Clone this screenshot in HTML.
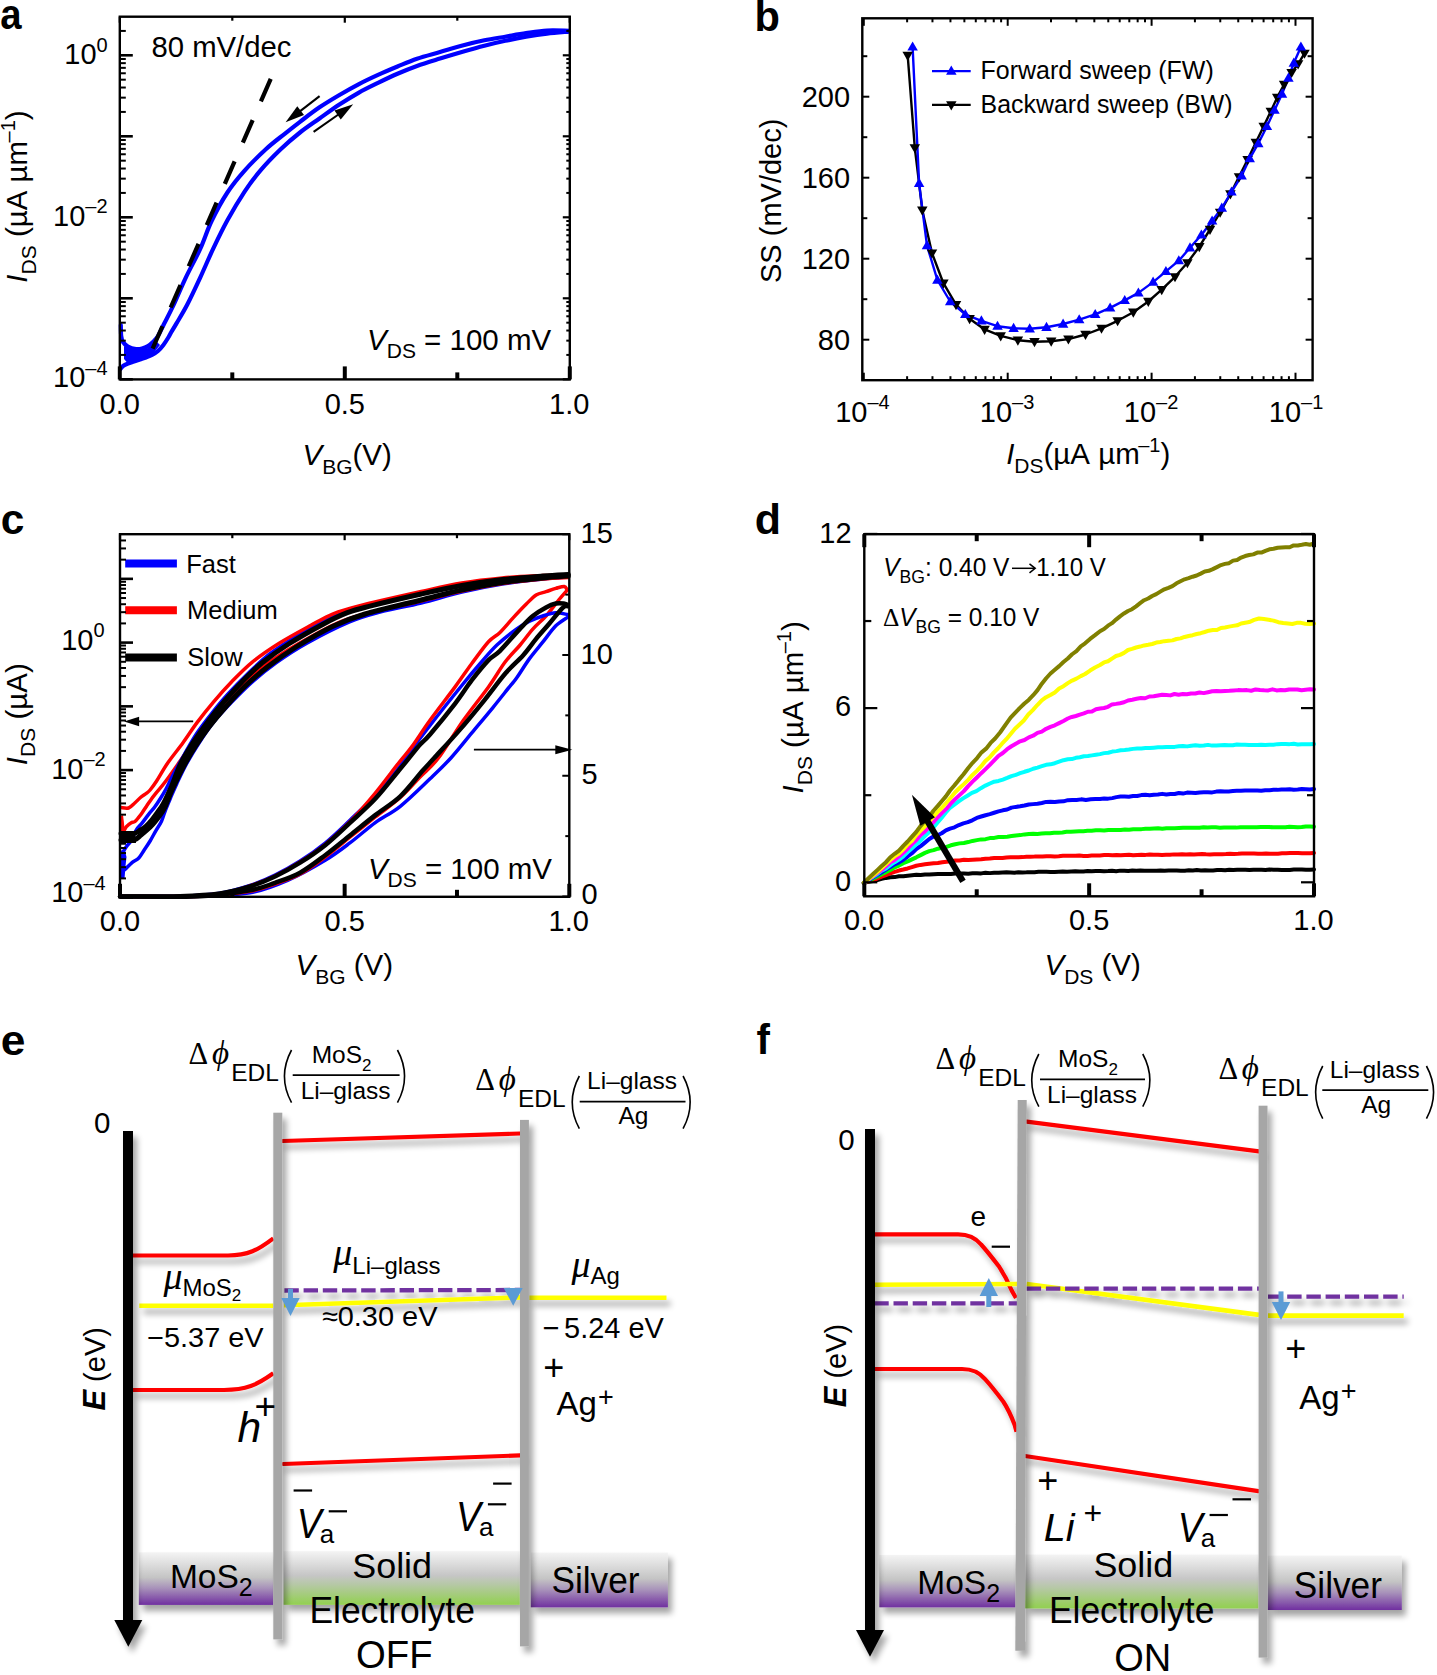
<!DOCTYPE html>
<html><head><meta charset="utf-8"><title>Figure</title>
<style>html,body{margin:0;padding:0;background:#fff;}svg{display:block;}text{font-kerning:none;white-space:pre;}</style>
</head><body>
<svg xml:space="preserve" width="1437" height="1675" viewBox="0 0 1437 1675">
<rect width="1437" height="1675" fill="#fff"/>
<defs>
<filter id="sh" filterUnits="userSpaceOnUse" x="0" y="980" width="1437" height="695">
 <feGaussianBlur in="SourceAlpha" stdDeviation="3.2"/>
 <feOffset dx="3.5" dy="5.5" result="b"/>
 <feComponentTransfer in="b"><feFuncA type="linear" slope="0.36"/></feComponentTransfer>
 <feMerge><feMergeNode/><feMergeNode in="SourceGraphic"/></feMerge>
</filter>
<linearGradient id="gp" x1="0" y1="0" x2="0" y2="1">
 <stop offset="0" stop-color="#f4f4f4"/><stop offset="0.48" stop-color="#c4c4c4"/>
 <stop offset="0.68" stop-color="#a892ba"/><stop offset="1" stop-color="#7030a0"/>
</linearGradient>
<linearGradient id="gg" x1="0" y1="0" x2="0" y2="1">
 <stop offset="0" stop-color="#f4f4f4"/><stop offset="0.45" stop-color="#c6c6c6"/>
 <stop offset="0.62" stop-color="#b6c8a6"/><stop offset="1" stop-color="#92d050"/>
</linearGradient>
</defs><path d="M120.80,325.00 C120.87,326.83 120.83,333.17 121.20,336.00 C121.57,338.83 121.87,340.25 123.00,342.00 C124.13,343.75 125.83,345.33 128.00,346.50 C130.17,347.67 133.67,348.67 136.00,349.00 C138.33,349.33 140.00,349.00 142.00,348.50 C144.00,348.00 146.17,347.08 148.00,346.00 C149.83,344.92 151.33,343.67 153.00,342.00 C154.67,340.33 156.17,339.00 158.00,336.00 C159.83,333.00 161.50,328.97 164.00,324.00 C166.50,319.03 169.37,313.93 173.00,306.20 C176.63,298.47 181.27,287.15 185.80,277.60 C190.33,268.05 195.90,258.33 200.20,248.90 C204.50,239.47 207.07,230.40 211.60,221.00 C216.13,211.60 221.90,200.90 227.40,192.50 C232.90,184.10 238.15,177.85 244.60,170.60 C251.05,163.35 259.42,155.13 266.10,149.00 C272.78,142.87 279.05,138.33 284.70,133.80 C290.35,129.27 294.20,126.22 300.00,121.80 C305.80,117.38 313.00,111.73 319.50,107.30 C326.00,102.87 332.50,99.03 339.00,95.20 C345.50,91.37 352.00,87.68 358.50,84.30 C365.00,80.92 371.50,77.87 378.00,74.90 C384.50,71.93 391.00,69.20 397.50,66.50 C404.00,63.80 409.92,61.12 417.00,58.70 C424.08,56.28 432.25,54.25 440.00,52.00 C447.75,49.75 456.10,47.15 463.50,45.20 C470.90,43.25 477.43,41.72 484.40,40.30 C491.37,38.88 498.35,37.88 505.30,36.70 C512.25,35.52 519.15,34.22 526.10,33.20 C533.05,32.18 539.85,31.00 547.00,30.60 C554.15,30.20 565.33,30.77 569.00,30.80" fill="none" stroke="#0000ff" stroke-width="4.2" stroke-linejoin="round" stroke-linecap="round"/><path d="M120.50,369.00 C120.92,368.50 121.75,366.92 123.00,366.00 C124.25,365.08 126.17,364.25 128.00,363.50 C129.83,362.75 132.00,362.17 134.00,361.50 C136.00,360.83 138.00,360.17 140.00,359.50 C142.00,358.83 144.00,358.25 146.00,357.50 C148.00,356.75 150.00,356.08 152.00,355.00 C154.00,353.92 156.10,352.67 158.00,351.00 C159.90,349.33 161.73,347.17 163.40,345.00 C165.07,342.83 166.70,340.12 168.00,338.00 C169.30,335.88 169.83,334.65 171.20,332.30 C172.57,329.95 173.52,328.53 176.20,323.90 C178.88,319.27 183.30,312.22 187.30,304.50 C191.30,296.78 195.90,286.87 200.20,277.60 C204.50,268.33 208.57,258.45 213.10,248.90 C217.63,239.35 222.15,229.85 227.40,220.30 C232.65,210.75 239.12,199.88 244.60,191.60 C250.08,183.32 254.33,177.62 260.30,170.60 C266.27,163.58 273.78,155.85 280.40,149.50 C287.02,143.15 293.48,137.67 300.00,132.50 C306.52,127.33 313.00,123.12 319.50,118.50 C326.00,113.88 332.50,109.08 339.00,104.80 C345.50,100.52 352.00,96.45 358.50,92.80 C365.00,89.15 371.50,86.07 378.00,82.90 C384.50,79.73 391.00,76.62 397.50,73.80 C404.00,70.98 409.92,68.53 417.00,66.00 C424.08,63.47 432.25,61.02 440.00,58.60 C447.75,56.18 456.10,53.65 463.50,51.50 C470.90,49.35 477.43,47.48 484.40,45.70 C491.37,43.92 498.35,42.28 505.30,40.80 C512.25,39.32 519.15,37.98 526.10,36.80 C533.05,35.62 539.85,34.57 547.00,33.70 C554.15,32.83 565.33,31.95 569.00,31.60" fill="none" stroke="#0000ff" stroke-width="4.2" stroke-linejoin="round" stroke-linecap="round"/><polygon points="124,346 136,350 148,348 156,341 160,345 152,355 140,359.5 128,363.5 124,359" fill="#0000ff"/><line x1="152.60" y1="348.70" x2="271.30" y2="77.60" stroke="#000" stroke-width="4.2" stroke-dasharray="24.5 20.5"/><line x1="319.60" y1="96.10" x2="299.86" y2="111.31" stroke="#000" stroke-width="2.1"/><polygon points="285.60,122.30 297.29,106.35 304.01,115.06" fill="#000"/><line x1="313.60" y1="131.80" x2="338.43" y2="114.49" stroke="#000" stroke-width="2.1"/><polygon points="353.20,104.20 340.76,119.58 334.47,110.55" fill="#000"/><rect x="119.8" y="16.7" width="449.99999999999994" height="362.7" fill="none" stroke="#000" stroke-width="2.4"/><line x1="119.80" y1="379.30" x2="132.80" y2="379.30" stroke="#000" stroke-width="2.6"/><line x1="569.80" y1="379.30" x2="562.80" y2="379.30" stroke="#000" stroke-width="2.2"/><line x1="119.80" y1="354.92" x2="125.80" y2="354.92" stroke="#000" stroke-width="2"/><line x1="569.80" y1="354.92" x2="566.30" y2="354.92" stroke="#000" stroke-width="2"/><line x1="119.80" y1="340.65" x2="125.80" y2="340.65" stroke="#000" stroke-width="2"/><line x1="569.80" y1="340.65" x2="566.30" y2="340.65" stroke="#000" stroke-width="2"/><line x1="119.80" y1="330.53" x2="125.80" y2="330.53" stroke="#000" stroke-width="2"/><line x1="569.80" y1="330.53" x2="566.30" y2="330.53" stroke="#000" stroke-width="2"/><line x1="119.80" y1="322.68" x2="125.80" y2="322.68" stroke="#000" stroke-width="2"/><line x1="569.80" y1="322.68" x2="566.30" y2="322.68" stroke="#000" stroke-width="2"/><line x1="119.80" y1="316.27" x2="125.80" y2="316.27" stroke="#000" stroke-width="2"/><line x1="569.80" y1="316.27" x2="566.30" y2="316.27" stroke="#000" stroke-width="2"/><line x1="119.80" y1="310.85" x2="125.80" y2="310.85" stroke="#000" stroke-width="2"/><line x1="569.80" y1="310.85" x2="566.30" y2="310.85" stroke="#000" stroke-width="2"/><line x1="119.80" y1="306.15" x2="125.80" y2="306.15" stroke="#000" stroke-width="2"/><line x1="569.80" y1="306.15" x2="566.30" y2="306.15" stroke="#000" stroke-width="2"/><line x1="119.80" y1="302.01" x2="125.80" y2="302.01" stroke="#000" stroke-width="2"/><line x1="569.80" y1="302.01" x2="566.30" y2="302.01" stroke="#000" stroke-width="2"/><line x1="119.80" y1="298.30" x2="132.80" y2="298.30" stroke="#000" stroke-width="2.6"/><line x1="569.80" y1="298.30" x2="562.80" y2="298.30" stroke="#000" stroke-width="2.2"/><line x1="119.80" y1="273.92" x2="125.80" y2="273.92" stroke="#000" stroke-width="2"/><line x1="569.80" y1="273.92" x2="566.30" y2="273.92" stroke="#000" stroke-width="2"/><line x1="119.80" y1="259.65" x2="125.80" y2="259.65" stroke="#000" stroke-width="2"/><line x1="569.80" y1="259.65" x2="566.30" y2="259.65" stroke="#000" stroke-width="2"/><line x1="119.80" y1="249.53" x2="125.80" y2="249.53" stroke="#000" stroke-width="2"/><line x1="569.80" y1="249.53" x2="566.30" y2="249.53" stroke="#000" stroke-width="2"/><line x1="119.80" y1="241.68" x2="125.80" y2="241.68" stroke="#000" stroke-width="2"/><line x1="569.80" y1="241.68" x2="566.30" y2="241.68" stroke="#000" stroke-width="2"/><line x1="119.80" y1="235.27" x2="125.80" y2="235.27" stroke="#000" stroke-width="2"/><line x1="569.80" y1="235.27" x2="566.30" y2="235.27" stroke="#000" stroke-width="2"/><line x1="119.80" y1="229.85" x2="125.80" y2="229.85" stroke="#000" stroke-width="2"/><line x1="569.80" y1="229.85" x2="566.30" y2="229.85" stroke="#000" stroke-width="2"/><line x1="119.80" y1="225.15" x2="125.80" y2="225.15" stroke="#000" stroke-width="2"/><line x1="569.80" y1="225.15" x2="566.30" y2="225.15" stroke="#000" stroke-width="2"/><line x1="119.80" y1="221.01" x2="125.80" y2="221.01" stroke="#000" stroke-width="2"/><line x1="569.80" y1="221.01" x2="566.30" y2="221.01" stroke="#000" stroke-width="2"/><line x1="119.80" y1="217.30" x2="132.80" y2="217.30" stroke="#000" stroke-width="2.6"/><line x1="569.80" y1="217.30" x2="562.80" y2="217.30" stroke="#000" stroke-width="2.2"/><line x1="119.80" y1="192.92" x2="125.80" y2="192.92" stroke="#000" stroke-width="2"/><line x1="569.80" y1="192.92" x2="566.30" y2="192.92" stroke="#000" stroke-width="2"/><line x1="119.80" y1="178.65" x2="125.80" y2="178.65" stroke="#000" stroke-width="2"/><line x1="569.80" y1="178.65" x2="566.30" y2="178.65" stroke="#000" stroke-width="2"/><line x1="119.80" y1="168.53" x2="125.80" y2="168.53" stroke="#000" stroke-width="2"/><line x1="569.80" y1="168.53" x2="566.30" y2="168.53" stroke="#000" stroke-width="2"/><line x1="119.80" y1="160.68" x2="125.80" y2="160.68" stroke="#000" stroke-width="2"/><line x1="569.80" y1="160.68" x2="566.30" y2="160.68" stroke="#000" stroke-width="2"/><line x1="119.80" y1="154.27" x2="125.80" y2="154.27" stroke="#000" stroke-width="2"/><line x1="569.80" y1="154.27" x2="566.30" y2="154.27" stroke="#000" stroke-width="2"/><line x1="119.80" y1="148.85" x2="125.80" y2="148.85" stroke="#000" stroke-width="2"/><line x1="569.80" y1="148.85" x2="566.30" y2="148.85" stroke="#000" stroke-width="2"/><line x1="119.80" y1="144.15" x2="125.80" y2="144.15" stroke="#000" stroke-width="2"/><line x1="569.80" y1="144.15" x2="566.30" y2="144.15" stroke="#000" stroke-width="2"/><line x1="119.80" y1="140.01" x2="125.80" y2="140.01" stroke="#000" stroke-width="2"/><line x1="569.80" y1="140.01" x2="566.30" y2="140.01" stroke="#000" stroke-width="2"/><line x1="119.80" y1="136.30" x2="132.80" y2="136.30" stroke="#000" stroke-width="2.6"/><line x1="569.80" y1="136.30" x2="562.80" y2="136.30" stroke="#000" stroke-width="2.2"/><line x1="119.80" y1="111.92" x2="125.80" y2="111.92" stroke="#000" stroke-width="2"/><line x1="569.80" y1="111.92" x2="566.30" y2="111.92" stroke="#000" stroke-width="2"/><line x1="119.80" y1="97.65" x2="125.80" y2="97.65" stroke="#000" stroke-width="2"/><line x1="569.80" y1="97.65" x2="566.30" y2="97.65" stroke="#000" stroke-width="2"/><line x1="119.80" y1="87.53" x2="125.80" y2="87.53" stroke="#000" stroke-width="2"/><line x1="569.80" y1="87.53" x2="566.30" y2="87.53" stroke="#000" stroke-width="2"/><line x1="119.80" y1="79.68" x2="125.80" y2="79.68" stroke="#000" stroke-width="2"/><line x1="569.80" y1="79.68" x2="566.30" y2="79.68" stroke="#000" stroke-width="2"/><line x1="119.80" y1="73.27" x2="125.80" y2="73.27" stroke="#000" stroke-width="2"/><line x1="569.80" y1="73.27" x2="566.30" y2="73.27" stroke="#000" stroke-width="2"/><line x1="119.80" y1="67.85" x2="125.80" y2="67.85" stroke="#000" stroke-width="2"/><line x1="569.80" y1="67.85" x2="566.30" y2="67.85" stroke="#000" stroke-width="2"/><line x1="119.80" y1="63.15" x2="125.80" y2="63.15" stroke="#000" stroke-width="2"/><line x1="569.80" y1="63.15" x2="566.30" y2="63.15" stroke="#000" stroke-width="2"/><line x1="119.80" y1="59.01" x2="125.80" y2="59.01" stroke="#000" stroke-width="2"/><line x1="569.80" y1="59.01" x2="566.30" y2="59.01" stroke="#000" stroke-width="2"/><line x1="119.80" y1="55.30" x2="132.80" y2="55.30" stroke="#000" stroke-width="2.6"/><line x1="569.80" y1="55.30" x2="562.80" y2="55.30" stroke="#000" stroke-width="2.2"/><line x1="119.80" y1="30.92" x2="125.80" y2="30.92" stroke="#000" stroke-width="2"/><line x1="569.80" y1="30.92" x2="566.30" y2="30.92" stroke="#000" stroke-width="2"/><line x1="119.80" y1="379.40" x2="119.80" y2="366.40" stroke="#000" stroke-width="4"/><line x1="119.80" y1="16.70" x2="119.80" y2="22.70" stroke="#000" stroke-width="2.2"/><line x1="344.80" y1="379.40" x2="344.80" y2="366.40" stroke="#000" stroke-width="4"/><line x1="344.80" y1="16.70" x2="344.80" y2="22.70" stroke="#000" stroke-width="2.2"/><line x1="569.80" y1="379.40" x2="569.80" y2="366.40" stroke="#000" stroke-width="4"/><line x1="569.80" y1="16.70" x2="569.80" y2="22.70" stroke="#000" stroke-width="2.2"/><line x1="232.30" y1="379.40" x2="232.30" y2="372.40" stroke="#000" stroke-width="4"/><line x1="232.30" y1="16.70" x2="232.30" y2="20.70" stroke="#000" stroke-width="2.2"/><line x1="457.30" y1="379.40" x2="457.30" y2="372.40" stroke="#000" stroke-width="4"/><line x1="457.30" y1="16.70" x2="457.30" y2="20.70" stroke="#000" stroke-width="2.2"/><g transform="translate(66.50,64.00)"><text x="-2.17" y="0.00" font-family='"Liberation Sans", sans-serif' font-size="29.00">10</text><text x="30.08" y="-12.30" font-family='"Liberation Sans", sans-serif' font-size="20.00">0</text></g><g transform="translate(55.20,226.40)"><text x="-2.17" y="0.00" font-family='"Liberation Sans", sans-serif' font-size="29.00">10</text><text x="30.08" y="-13.00" font-family='"Liberation Sans", sans-serif' font-size="20.00">–2</text></g><g transform="translate(55.20,387.40)"><text x="-2.17" y="0.00" font-family='"Liberation Sans", sans-serif' font-size="29.00">10</text><text x="30.08" y="-12.50" font-family='"Liberation Sans", sans-serif' font-size="20.00">–4</text></g><g transform="translate(119.80,413.50)"><text x="-20.23" y="0.00" font-family='"Liberation Sans", sans-serif' font-size="29.00">0.0</text></g><g transform="translate(344.80,413.50)"><text x="-20.16" y="0.00" font-family='"Liberation Sans", sans-serif' font-size="29.00">0.5</text></g><g transform="translate(569.80,413.50)"><text x="-20.73" y="0.00" font-family='"Liberation Sans", sans-serif' font-size="29.00">1.0</text></g><g transform="translate(305.00,465.00)"><text x="-2.51" y="0.00" font-family='"Liberation Sans", sans-serif' font-size="29.50" font-style="italic">V</text><text x="17.17" y="8.50" font-family='"Liberation Sans", sans-serif' font-size="21.00">BG</text><text x="47.51" y="0.00" font-family='"Liberation Sans", sans-serif' font-size="29.50">(V)</text></g><g transform="translate(27.00,281.50) rotate(-90)"><text x="-1.18" y="0.00" font-family='"Liberation Sans", sans-serif' font-size="29.50" font-style="italic">I</text><text x="7.02" y="8.50" font-family='"Liberation Sans", sans-serif' font-size="21.00">DS</text><text x="36.19" y="0.00" font-family='"Liberation Sans", sans-serif' font-size="29.50"> (µA µm</text><text x="139.02" y="-12.50" font-family='"Liberation Sans", sans-serif' font-size="20.00">–1</text><text x="161.27" y="0.00" font-family='"Liberation Sans", sans-serif' font-size="29.50">)</text></g><g transform="translate(152.80,57.10) scale(0.9932,1.0000)"><text x="-1.33" y="0.00" font-family='"Liberation Sans", sans-serif' font-size="29.50">80 mV/dec</text></g><g transform="translate(369.60,349.50)"><text x="-2.51" y="0.00" font-family='"Liberation Sans", sans-serif' font-size="29.50" font-style="italic">V</text><text x="17.17" y="8.10" font-family='"Liberation Sans", sans-serif' font-size="21.00">DS</text><text x="46.34" y="0.00" font-family='"Liberation Sans", sans-serif' font-size="29.50"> = 100 mV</text></g><g transform="translate(1.40,29.20) scale(0.8911,1.0000)"><text x="-1.29" y="0.00" font-family='"Liberation Sans", sans-serif' font-size="43.00" font-weight="bold">a</text></g><path d="M907.70,55.50 L914.80,147.80 L922.30,210.20 L932.00,253.10 L943.40,283.20 L956.00,304.70 L969.60,318.70 L984.60,329.40 L1000.70,335.90 L1017.90,340.20 L1034.50,341.70 L1051.20,341.20 L1068.40,339.10 L1085.50,334.50 L1101.50,328.30 L1117.60,320.80 L1133.30,312.20 L1148.30,301.50 L1161.70,289.70 L1175.00,276.80 L1187.40,262.80 L1199.30,246.70 L1210.00,229.50 L1220.10,212.30 L1230.40,194.00 L1239.00,176.90 L1247.60,159.70 L1255.80,142.50 L1263.70,126.40 L1270.80,111.30 L1277.20,97.40 L1284.10,84.50 L1291.60,72.60 L1298.10,64.00 L1304.50,53.30" fill="none" stroke="#000" stroke-width="2.4" stroke-linejoin="round" stroke-linecap="round"/><path d="M912.60,46.90 L919.10,183.30 L927.00,245.60 L937.40,280.00 L950.20,301.50 L965.30,314.40 L981.40,320.80 L997.50,326.20 L1013.60,328.30 L1029.70,328.80 L1046.50,327.30 L1063.10,324.00 L1079.20,319.70 L1095.20,314.40 L1110.10,307.90 L1124.70,300.40 L1138.40,292.90 L1153.10,282.10 L1165.90,271.40 L1178.80,260.70 L1190.00,247.80 L1201.40,234.90 L1212.10,220.90 L1221.80,208.00 L1231.50,191.90 L1241.60,175.80 L1249.70,158.60 L1258.30,143.50 L1266.90,126.40 L1274.50,110.20 L1282.00,94.10 L1288.40,78.00 L1293.80,63.00 L1300.90,46.90" fill="none" stroke="#0000ff" stroke-width="2.4" stroke-linejoin="round" stroke-linecap="round"/><polygon points="907.70,60.98 902.45,51.85 912.95,51.85" fill="#000"/><polygon points="914.80,153.28 909.55,144.15 920.05,144.15" fill="#000"/><polygon points="922.30,215.68 917.05,206.55 927.55,206.55" fill="#000"/><polygon points="932.00,258.58 926.75,249.45 937.25,249.45" fill="#000"/><polygon points="943.40,288.68 938.15,279.55 948.65,279.55" fill="#000"/><polygon points="956.00,310.18 950.75,301.05 961.25,301.05" fill="#000"/><polygon points="969.60,324.18 964.35,315.05 974.85,315.05" fill="#000"/><polygon points="984.60,334.88 979.35,325.75 989.85,325.75" fill="#000"/><polygon points="1000.70,341.38 995.45,332.25 1005.95,332.25" fill="#000"/><polygon points="1017.90,345.68 1012.65,336.55 1023.15,336.55" fill="#000"/><polygon points="1034.50,347.18 1029.25,338.05 1039.75,338.05" fill="#000"/><polygon points="1051.20,346.68 1045.95,337.55 1056.45,337.55" fill="#000"/><polygon points="1068.40,344.58 1063.15,335.45 1073.65,335.45" fill="#000"/><polygon points="1085.50,339.98 1080.25,330.85 1090.75,330.85" fill="#000"/><polygon points="1101.50,333.78 1096.25,324.65 1106.75,324.65" fill="#000"/><polygon points="1117.60,326.28 1112.35,317.15 1122.85,317.15" fill="#000"/><polygon points="1133.30,317.68 1128.05,308.55 1138.55,308.55" fill="#000"/><polygon points="1148.30,306.98 1143.05,297.85 1153.55,297.85" fill="#000"/><polygon points="1161.70,295.18 1156.45,286.05 1166.95,286.05" fill="#000"/><polygon points="1175.00,282.28 1169.75,273.15 1180.25,273.15" fill="#000"/><polygon points="1187.40,268.28 1182.15,259.15 1192.65,259.15" fill="#000"/><polygon points="1199.30,252.18 1194.05,243.05 1204.55,243.05" fill="#000"/><polygon points="1210.00,234.98 1204.75,225.85 1215.25,225.85" fill="#000"/><polygon points="1220.10,217.78 1214.85,208.65 1225.35,208.65" fill="#000"/><polygon points="1230.40,199.48 1225.15,190.35 1235.65,190.35" fill="#000"/><polygon points="1239.00,182.38 1233.75,173.25 1244.25,173.25" fill="#000"/><polygon points="1247.60,165.18 1242.35,156.05 1252.85,156.05" fill="#000"/><polygon points="1255.80,147.98 1250.55,138.85 1261.05,138.85" fill="#000"/><polygon points="1263.70,131.88 1258.45,122.75 1268.95,122.75" fill="#000"/><polygon points="1270.80,116.78 1265.55,107.65 1276.05,107.65" fill="#000"/><polygon points="1277.20,102.88 1271.95,93.75 1282.45,93.75" fill="#000"/><polygon points="1284.10,89.98 1278.85,80.85 1289.35,80.85" fill="#000"/><polygon points="1291.60,78.08 1286.35,68.95 1296.85,68.95" fill="#000"/><polygon points="1298.10,69.48 1292.85,60.35 1303.35,60.35" fill="#000"/><polygon points="1304.50,58.78 1299.25,49.65 1309.75,49.65" fill="#000"/><polygon points="912.60,41.42 907.35,50.55 917.85,50.55" fill="#0000ff"/><polygon points="919.10,177.82 913.85,186.95 924.35,186.95" fill="#0000ff"/><polygon points="927.00,240.12 921.75,249.25 932.25,249.25" fill="#0000ff"/><polygon points="937.40,274.52 932.15,283.65 942.65,283.65" fill="#0000ff"/><polygon points="950.20,296.02 944.95,305.15 955.45,305.15" fill="#0000ff"/><polygon points="965.30,308.92 960.05,318.05 970.55,318.05" fill="#0000ff"/><polygon points="981.40,315.32 976.15,324.45 986.65,324.45" fill="#0000ff"/><polygon points="997.50,320.72 992.25,329.85 1002.75,329.85" fill="#0000ff"/><polygon points="1013.60,322.82 1008.35,331.95 1018.85,331.95" fill="#0000ff"/><polygon points="1029.70,323.32 1024.45,332.45 1034.95,332.45" fill="#0000ff"/><polygon points="1046.50,321.82 1041.25,330.95 1051.75,330.95" fill="#0000ff"/><polygon points="1063.10,318.52 1057.85,327.65 1068.35,327.65" fill="#0000ff"/><polygon points="1079.20,314.22 1073.95,323.35 1084.45,323.35" fill="#0000ff"/><polygon points="1095.20,308.92 1089.95,318.05 1100.45,318.05" fill="#0000ff"/><polygon points="1110.10,302.42 1104.85,311.55 1115.35,311.55" fill="#0000ff"/><polygon points="1124.70,294.92 1119.45,304.05 1129.95,304.05" fill="#0000ff"/><polygon points="1138.40,287.42 1133.15,296.55 1143.65,296.55" fill="#0000ff"/><polygon points="1153.10,276.62 1147.85,285.75 1158.35,285.75" fill="#0000ff"/><polygon points="1165.90,265.92 1160.65,275.05 1171.15,275.05" fill="#0000ff"/><polygon points="1178.80,255.22 1173.55,264.35 1184.05,264.35" fill="#0000ff"/><polygon points="1190.00,242.32 1184.75,251.45 1195.25,251.45" fill="#0000ff"/><polygon points="1201.40,229.42 1196.15,238.55 1206.65,238.55" fill="#0000ff"/><polygon points="1212.10,215.42 1206.85,224.55 1217.35,224.55" fill="#0000ff"/><polygon points="1221.80,202.52 1216.55,211.65 1227.05,211.65" fill="#0000ff"/><polygon points="1231.50,186.42 1226.25,195.55 1236.75,195.55" fill="#0000ff"/><polygon points="1241.60,170.32 1236.35,179.45 1246.85,179.45" fill="#0000ff"/><polygon points="1249.70,153.12 1244.45,162.25 1254.95,162.25" fill="#0000ff"/><polygon points="1258.30,138.02 1253.05,147.15 1263.55,147.15" fill="#0000ff"/><polygon points="1266.90,120.92 1261.65,130.05 1272.15,130.05" fill="#0000ff"/><polygon points="1274.50,104.72 1269.25,113.85 1279.75,113.85" fill="#0000ff"/><polygon points="1282.00,88.62 1276.75,97.75 1287.25,97.75" fill="#0000ff"/><polygon points="1288.40,72.52 1283.15,81.65 1293.65,81.65" fill="#0000ff"/><polygon points="1293.80,57.52 1288.55,66.65 1299.05,66.65" fill="#0000ff"/><polygon points="1300.90,41.42 1295.65,50.55 1306.15,50.55" fill="#0000ff"/><line x1="932.00" y1="71.10" x2="970.70" y2="71.10" stroke="#0000ff" stroke-width="2.4"/><polygon points="951.30,65.62 946.05,74.75 956.55,74.75" fill="#0000ff"/><line x1="932.00" y1="104.90" x2="970.70" y2="104.90" stroke="#000" stroke-width="2.4"/><polygon points="951.30,110.38 946.05,101.25 956.55,101.25" fill="#000"/><g transform="translate(982.60,79.30) scale(0.9798,1.0000)"><text x="-2.04" y="0.00" font-family='"Liberation Sans", sans-serif' font-size="25.50">Forward sweep (FW)</text></g><g transform="translate(982.60,113.30) scale(0.9774,1.0000)"><text x="-2.04" y="0.00" font-family='"Liberation Sans", sans-serif' font-size="25.50">Backward sweep (BW)</text></g><rect x="862.3" y="18.3" width="450.29999999999995" height="361.9" fill="none" stroke="#000" stroke-width="2.4"/><line x1="862.30" y1="339.70" x2="869.30" y2="339.70" stroke="#000" stroke-width="2"/><line x1="1312.60" y1="339.70" x2="1305.60" y2="339.70" stroke="#000" stroke-width="2"/><line x1="862.30" y1="299.20" x2="867.30" y2="299.20" stroke="#000" stroke-width="2"/><line x1="1312.60" y1="299.20" x2="1307.60" y2="299.20" stroke="#000" stroke-width="2"/><line x1="862.30" y1="258.70" x2="869.30" y2="258.70" stroke="#000" stroke-width="2"/><line x1="1312.60" y1="258.70" x2="1305.60" y2="258.70" stroke="#000" stroke-width="2"/><line x1="862.30" y1="218.20" x2="867.30" y2="218.20" stroke="#000" stroke-width="2"/><line x1="1312.60" y1="218.20" x2="1307.60" y2="218.20" stroke="#000" stroke-width="2"/><line x1="862.30" y1="177.70" x2="869.30" y2="177.70" stroke="#000" stroke-width="2"/><line x1="1312.60" y1="177.70" x2="1305.60" y2="177.70" stroke="#000" stroke-width="2"/><line x1="862.30" y1="137.20" x2="867.30" y2="137.20" stroke="#000" stroke-width="2"/><line x1="1312.60" y1="137.20" x2="1307.60" y2="137.20" stroke="#000" stroke-width="2"/><line x1="862.30" y1="96.70" x2="869.30" y2="96.70" stroke="#000" stroke-width="2"/><line x1="1312.60" y1="96.70" x2="1305.60" y2="96.70" stroke="#000" stroke-width="2"/><line x1="862.30" y1="56.20" x2="867.30" y2="56.20" stroke="#000" stroke-width="2"/><line x1="1312.60" y1="56.20" x2="1307.60" y2="56.20" stroke="#000" stroke-width="2"/><line x1="863.80" y1="380.20" x2="863.80" y2="372.70" stroke="#000" stroke-width="2"/><line x1="863.80" y1="18.30" x2="863.80" y2="25.80" stroke="#000" stroke-width="2"/><line x1="907.12" y1="380.20" x2="907.12" y2="376.20" stroke="#000" stroke-width="2"/><line x1="907.12" y1="18.30" x2="907.12" y2="22.30" stroke="#000" stroke-width="2"/><line x1="932.46" y1="380.20" x2="932.46" y2="376.20" stroke="#000" stroke-width="2"/><line x1="932.46" y1="18.30" x2="932.46" y2="22.30" stroke="#000" stroke-width="2"/><line x1="950.44" y1="380.20" x2="950.44" y2="376.20" stroke="#000" stroke-width="2"/><line x1="950.44" y1="18.30" x2="950.44" y2="22.30" stroke="#000" stroke-width="2"/><line x1="964.38" y1="380.20" x2="964.38" y2="376.20" stroke="#000" stroke-width="2"/><line x1="964.38" y1="18.30" x2="964.38" y2="22.30" stroke="#000" stroke-width="2"/><line x1="975.78" y1="380.20" x2="975.78" y2="376.20" stroke="#000" stroke-width="2"/><line x1="975.78" y1="18.30" x2="975.78" y2="22.30" stroke="#000" stroke-width="2"/><line x1="985.41" y1="380.20" x2="985.41" y2="376.20" stroke="#000" stroke-width="2"/><line x1="985.41" y1="18.30" x2="985.41" y2="22.30" stroke="#000" stroke-width="2"/><line x1="993.75" y1="380.20" x2="993.75" y2="376.20" stroke="#000" stroke-width="2"/><line x1="993.75" y1="18.30" x2="993.75" y2="22.30" stroke="#000" stroke-width="2"/><line x1="1001.12" y1="380.20" x2="1001.12" y2="376.20" stroke="#000" stroke-width="2"/><line x1="1001.12" y1="18.30" x2="1001.12" y2="22.30" stroke="#000" stroke-width="2"/><line x1="1007.70" y1="380.20" x2="1007.70" y2="372.70" stroke="#000" stroke-width="2"/><line x1="1007.70" y1="18.30" x2="1007.70" y2="25.80" stroke="#000" stroke-width="2"/><line x1="1051.02" y1="380.20" x2="1051.02" y2="376.20" stroke="#000" stroke-width="2"/><line x1="1051.02" y1="18.30" x2="1051.02" y2="22.30" stroke="#000" stroke-width="2"/><line x1="1076.36" y1="380.20" x2="1076.36" y2="376.20" stroke="#000" stroke-width="2"/><line x1="1076.36" y1="18.30" x2="1076.36" y2="22.30" stroke="#000" stroke-width="2"/><line x1="1094.34" y1="380.20" x2="1094.34" y2="376.20" stroke="#000" stroke-width="2"/><line x1="1094.34" y1="18.30" x2="1094.34" y2="22.30" stroke="#000" stroke-width="2"/><line x1="1108.28" y1="380.20" x2="1108.28" y2="376.20" stroke="#000" stroke-width="2"/><line x1="1108.28" y1="18.30" x2="1108.28" y2="22.30" stroke="#000" stroke-width="2"/><line x1="1119.68" y1="380.20" x2="1119.68" y2="376.20" stroke="#000" stroke-width="2"/><line x1="1119.68" y1="18.30" x2="1119.68" y2="22.30" stroke="#000" stroke-width="2"/><line x1="1129.31" y1="380.20" x2="1129.31" y2="376.20" stroke="#000" stroke-width="2"/><line x1="1129.31" y1="18.30" x2="1129.31" y2="22.30" stroke="#000" stroke-width="2"/><line x1="1137.65" y1="380.20" x2="1137.65" y2="376.20" stroke="#000" stroke-width="2"/><line x1="1137.65" y1="18.30" x2="1137.65" y2="22.30" stroke="#000" stroke-width="2"/><line x1="1145.02" y1="380.20" x2="1145.02" y2="376.20" stroke="#000" stroke-width="2"/><line x1="1145.02" y1="18.30" x2="1145.02" y2="22.30" stroke="#000" stroke-width="2"/><line x1="1151.60" y1="380.20" x2="1151.60" y2="372.70" stroke="#000" stroke-width="2"/><line x1="1151.60" y1="18.30" x2="1151.60" y2="25.80" stroke="#000" stroke-width="2"/><line x1="1194.92" y1="380.20" x2="1194.92" y2="376.20" stroke="#000" stroke-width="2"/><line x1="1194.92" y1="18.30" x2="1194.92" y2="22.30" stroke="#000" stroke-width="2"/><line x1="1220.26" y1="380.20" x2="1220.26" y2="376.20" stroke="#000" stroke-width="2"/><line x1="1220.26" y1="18.30" x2="1220.26" y2="22.30" stroke="#000" stroke-width="2"/><line x1="1238.24" y1="380.20" x2="1238.24" y2="376.20" stroke="#000" stroke-width="2"/><line x1="1238.24" y1="18.30" x2="1238.24" y2="22.30" stroke="#000" stroke-width="2"/><line x1="1252.18" y1="380.20" x2="1252.18" y2="376.20" stroke="#000" stroke-width="2"/><line x1="1252.18" y1="18.30" x2="1252.18" y2="22.30" stroke="#000" stroke-width="2"/><line x1="1263.58" y1="380.20" x2="1263.58" y2="376.20" stroke="#000" stroke-width="2"/><line x1="1263.58" y1="18.30" x2="1263.58" y2="22.30" stroke="#000" stroke-width="2"/><line x1="1273.21" y1="380.20" x2="1273.21" y2="376.20" stroke="#000" stroke-width="2"/><line x1="1273.21" y1="18.30" x2="1273.21" y2="22.30" stroke="#000" stroke-width="2"/><line x1="1281.55" y1="380.20" x2="1281.55" y2="376.20" stroke="#000" stroke-width="2"/><line x1="1281.55" y1="18.30" x2="1281.55" y2="22.30" stroke="#000" stroke-width="2"/><line x1="1288.92" y1="380.20" x2="1288.92" y2="376.20" stroke="#000" stroke-width="2"/><line x1="1288.92" y1="18.30" x2="1288.92" y2="22.30" stroke="#000" stroke-width="2"/><line x1="1295.50" y1="380.20" x2="1295.50" y2="372.70" stroke="#000" stroke-width="2"/><line x1="1295.50" y1="18.30" x2="1295.50" y2="25.80" stroke="#000" stroke-width="2"/><g transform="translate(849.00,350.00)"><text x="-31.17" y="0.00" font-family='"Liberation Sans", sans-serif' font-size="29.00">80</text></g><g transform="translate(849.00,269.00)"><text x="-47.27" y="0.00" font-family='"Liberation Sans", sans-serif' font-size="29.00">120</text></g><g transform="translate(849.00,188.00)"><text x="-47.27" y="0.00" font-family='"Liberation Sans", sans-serif' font-size="29.00">160</text></g><g transform="translate(849.00,107.00)"><text x="-47.27" y="0.00" font-family='"Liberation Sans", sans-serif' font-size="29.00">200</text></g><g transform="translate(837.30,421.70)"><text x="-2.17" y="0.00" font-family='"Liberation Sans", sans-serif' font-size="29.00">10</text><text x="30.08" y="-12.80" font-family='"Liberation Sans", sans-serif' font-size="20.00">–4</text></g><g transform="translate(982.00,421.70)"><text x="-2.17" y="0.00" font-family='"Liberation Sans", sans-serif' font-size="29.00">10</text><text x="30.08" y="-12.80" font-family='"Liberation Sans", sans-serif' font-size="20.00">–3</text></g><g transform="translate(1126.00,421.70)"><text x="-2.17" y="0.00" font-family='"Liberation Sans", sans-serif' font-size="29.00">10</text><text x="30.08" y="-12.80" font-family='"Liberation Sans", sans-serif' font-size="20.00">–2</text></g><g transform="translate(1271.00,421.70)"><text x="-2.17" y="0.00" font-family='"Liberation Sans", sans-serif' font-size="29.00">10</text><text x="30.08" y="-12.80" font-family='"Liberation Sans", sans-serif' font-size="20.00">–1</text></g><g transform="translate(1007.30,464.00)"><text x="-1.18" y="0.00" font-family='"Liberation Sans", sans-serif' font-size="29.50" font-style="italic">I</text><text x="7.02" y="8.50" font-family='"Liberation Sans", sans-serif' font-size="21.00">DS</text><text x="36.19" y="0.00" font-family='"Liberation Sans", sans-serif' font-size="29.50">(µA µm</text><text x="130.83" y="-12.50" font-family='"Liberation Sans", sans-serif' font-size="20.00">–1</text><text x="153.08" y="0.00" font-family='"Liberation Sans", sans-serif' font-size="29.50">)</text></g><g transform="translate(780.70,281.70) rotate(-90)"><text x="-1.30" y="0.00" font-family='"Liberation Sans", sans-serif' font-size="29.00">SS (mV/dec)</text></g><g transform="translate(757.30,31.00) scale(0.9671,1.0000)"><text x="-2.79" y="0.00" font-family='"Liberation Sans", sans-serif' font-size="43.00" font-weight="bold">b</text></g><path d="M121.50,877.00 C121.65,876.17 121.60,873.47 122.40,872.00 C123.20,870.53 124.70,869.77 126.30,868.20 C127.90,866.63 129.92,864.30 132.00,862.60 C134.08,860.90 136.72,860.18 138.80,858.00 C140.88,855.82 142.62,852.33 144.50,849.50 C146.38,846.67 148.22,844.12 150.10,841.00 C151.98,837.88 153.90,834.10 155.80,830.80 C157.70,827.50 159.88,824.67 161.50,821.20 C163.12,817.73 164.00,813.87 165.50,810.00 C167.00,806.13 168.60,802.43 170.50,798.00 C172.40,793.57 174.15,789.23 176.90,783.40 C179.65,777.57 183.28,769.78 187.00,763.00 C190.72,756.22 194.80,749.47 199.20,742.70 C203.60,735.93 207.98,729.17 213.40,722.40 C218.82,715.63 225.27,708.82 231.70,702.10 C238.13,695.38 244.55,688.70 252.00,682.10 C259.45,675.50 267.27,669.00 276.40,662.50 C285.53,656.00 294.62,649.88 306.80,643.10 C318.98,636.32 337.30,626.98 349.50,621.80 C361.70,616.62 368.05,615.13 380.00,612.00 C391.95,608.87 407.57,606.33 421.20,603.00 C434.83,599.67 448.28,595.17 461.80,592.00 C475.32,588.83 488.78,586.17 502.30,584.00 C515.82,581.83 531.90,580.17 542.90,579.00 C553.90,577.83 564.07,577.33 568.30,577.00" fill="none" stroke="#0000ff" stroke-width="3.5" stroke-linejoin="round" stroke-linecap="round"/><path d="M121.20,818.30 C121.48,820.38 122.05,829.38 122.90,830.80 C123.75,832.22 124.97,828.12 126.30,826.80 C127.63,825.48 129.48,823.75 130.90,822.90 C132.32,822.05 133.48,822.65 134.80,821.70 C136.12,820.75 137.57,818.70 138.80,817.20 C140.03,815.70 140.88,814.58 142.20,812.70 C143.52,810.82 145.10,808.27 146.70,805.90 C148.30,803.53 150.28,800.58 151.80,798.50 C153.32,796.42 153.55,796.18 155.80,793.40 C158.05,790.62 161.33,787.07 165.30,781.80 C169.27,776.53 175.07,768.23 179.60,761.80 C184.13,755.37 187.93,749.67 192.50,743.20 C197.07,736.73 201.58,729.70 207.00,723.00 C212.42,716.30 218.67,709.72 225.00,703.00 C231.33,696.28 237.83,689.33 245.00,682.70 C252.17,676.07 259.17,669.65 268.00,663.20 C276.83,656.75 286.33,650.73 298.00,644.00 C309.67,637.27 326.00,628.07 338.00,622.80 C350.00,617.53 356.13,616.03 370.00,612.40 C383.87,608.77 405.90,604.57 421.20,601.00 C436.50,597.43 448.28,593.92 461.80,591.00 C475.32,588.08 488.78,585.50 502.30,583.50 C515.82,581.50 531.90,580.00 542.90,579.00 C553.90,578.00 564.07,577.75 568.30,577.50" fill="none" stroke="#ff0000" stroke-width="3.5" stroke-linejoin="round" stroke-linecap="round"/><path d="M121.20,855.20 C122.05,853.78 124.68,849.07 126.30,846.70 C127.92,844.33 129.20,843.83 130.90,841.00 C132.60,838.17 134.62,832.72 136.50,829.70 C138.38,826.68 140.12,825.55 142.20,822.90 C144.28,820.25 146.92,816.45 149.00,813.80 C151.08,811.15 152.80,809.55 154.70,807.00 C156.60,804.45 158.52,801.50 160.40,798.50 C162.28,795.50 164.07,792.58 166.00,789.00 C167.93,785.42 169.00,782.67 172.00,777.00 C175.00,771.33 179.83,762.33 184.00,755.00 C188.17,747.67 192.33,740.00 197.00,733.00 C201.67,726.00 206.83,719.50 212.00,713.00 C217.17,706.50 222.17,700.43 228.00,694.00 C233.83,687.57 240.00,681.12 247.00,674.40 C254.00,667.68 261.17,660.45 270.00,653.70 C278.83,646.95 290.33,639.85 300.00,633.90 C309.67,627.95 318.83,622.33 328.00,618.00 C337.17,613.67 339.47,612.07 355.00,607.90 C370.53,603.73 403.40,596.90 421.20,593.00 C439.00,589.10 448.28,586.83 461.80,584.50 C475.32,582.17 488.78,580.38 502.30,579.00 C515.82,577.62 531.90,576.82 542.90,576.20 C553.90,575.58 564.07,575.45 568.30,575.30" fill="none" stroke="#0000ff" stroke-width="3.5" stroke-linejoin="round" stroke-linecap="round"/><path d="M121.00,807.60 C122.27,807.67 126.30,808.77 128.60,808.00 C130.90,807.23 132.82,804.75 134.80,803.00 C136.78,801.25 138.60,799.10 140.50,797.50 C142.40,795.90 144.60,794.65 146.20,793.40 C147.80,792.15 148.37,792.07 150.10,790.00 C151.83,787.93 153.67,785.50 156.60,781.00 C159.53,776.50 163.30,769.38 167.70,763.00 C172.10,756.62 178.08,749.47 183.00,742.70 C187.92,735.93 192.13,729.17 197.20,722.40 C202.27,715.63 207.65,708.87 213.40,702.10 C219.15,695.33 225.27,688.43 231.70,681.80 C238.13,675.17 244.22,668.65 252.00,662.30 C259.78,655.95 268.58,649.87 278.40,643.70 C288.22,637.53 301.77,630.28 310.90,625.30 C320.03,620.32 325.35,617.00 333.20,613.80 C341.05,610.60 343.33,609.82 358.00,606.10 C372.67,602.38 403.90,595.35 421.20,591.50 C438.50,587.65 448.28,585.25 461.80,583.00 C475.32,580.75 488.78,579.25 502.30,578.00 C515.82,576.75 531.90,576.08 542.90,575.50 C553.90,574.92 564.07,574.67 568.30,574.50" fill="none" stroke="#ff0000" stroke-width="3.5" stroke-linejoin="round" stroke-linecap="round"/><path d="M121.00,840.00 C123.17,840.00 130.67,840.83 134.00,840.00 C137.33,839.17 138.83,836.67 141.00,835.00 C143.17,833.33 145.00,831.83 147.00,830.00 C149.00,828.17 151.00,826.25 153.00,824.00 C155.00,821.75 157.08,819.17 159.00,816.50 C160.92,813.83 162.33,812.42 164.50,808.00 C166.67,803.58 168.92,796.75 172.00,790.00 C175.08,783.25 179.17,774.67 183.00,767.50 C186.83,760.33 190.67,753.75 195.00,747.00 C199.33,740.25 203.83,733.75 209.00,727.00 C214.17,720.25 220.00,713.30 226.00,706.50 C232.00,699.70 238.00,692.87 245.00,686.20 C252.00,679.53 259.50,673.03 268.00,666.50 C276.50,659.97 285.17,653.72 296.00,647.00 C306.83,640.28 321.50,631.70 333.00,626.20 C344.50,620.70 350.30,618.37 365.00,614.00 C379.70,609.63 405.07,604.00 421.20,600.00 C437.33,596.00 448.28,592.92 461.80,590.00 C475.32,587.08 488.78,584.50 502.30,582.50 C515.82,580.50 531.90,579.08 542.90,578.00 C553.90,576.92 564.07,576.33 568.30,576.00" fill="none" stroke="#000" stroke-width="5" stroke-linejoin="round" stroke-linecap="round"/><path d="M121.00,833.50 C123.17,833.50 130.75,834.08 134.00,833.50 C137.25,832.92 138.47,831.25 140.50,830.00 C142.53,828.75 144.32,827.67 146.20,826.00 C148.08,824.33 149.92,822.25 151.80,820.00 C153.68,817.75 155.60,815.17 157.50,812.50 C159.40,809.83 160.98,808.08 163.20,804.00 C165.42,799.92 167.83,794.83 170.80,788.00 C173.77,781.17 177.28,770.55 181.00,763.00 C184.72,755.45 188.72,749.47 193.10,742.70 C197.48,735.93 202.22,729.17 207.30,722.40 C212.38,715.63 217.83,708.85 223.60,702.10 C229.37,695.35 235.47,688.45 241.90,681.90 C248.33,675.35 254.42,669.12 262.20,662.80 C269.98,656.48 278.45,650.43 288.60,644.00 C298.75,637.57 313.30,629.42 323.10,624.20 C332.90,618.98 339.58,615.72 347.40,612.70 C355.22,609.68 357.70,609.22 370.00,606.10 C382.30,602.98 405.90,597.43 421.20,594.00 C436.50,590.57 448.28,587.92 461.80,585.50 C475.32,583.08 488.78,581.08 502.30,579.50 C515.82,577.92 531.90,576.83 542.90,576.00 C553.90,575.17 564.07,574.75 568.30,574.50" fill="none" stroke="#000" stroke-width="5" stroke-linejoin="round" stroke-linecap="round"/><polygon points="120.5,851 124.5,849 126.5,857 125.5,866 124.5,879 120.5,879" fill="#0000ff"/><polygon points="120.5,816 123,815 124.5,828 123,832 120.5,832" fill="#ff0000"/><polygon points="120.5,831 135,831 136,843 120.5,843" fill="#000"/><path d="M120.00,896.50 C133.33,896.45 178.33,896.82 200.00,896.20 C221.67,895.58 235.40,895.45 250.00,892.80 C264.60,890.15 275.07,885.73 287.60,880.30 C300.13,874.87 314.77,866.47 325.20,860.20 C335.63,853.93 341.85,848.97 350.20,842.70 C358.55,836.43 366.95,828.67 375.30,822.60 C383.65,816.53 391.18,813.60 400.30,806.30 C409.42,799.00 421.57,786.85 430.00,778.80 C438.43,770.75 443.93,765.65 450.90,758.00 C457.87,750.35 464.83,741.27 471.80,732.90 C478.77,724.53 486.43,715.47 492.70,707.80 C498.97,700.13 505.45,691.82 509.40,686.90 C513.35,681.98 513.05,683.02 516.40,678.30 C519.75,673.58 525.12,664.62 529.50,658.60 C533.88,652.58 538.32,647.67 542.70,642.20 C547.08,636.73 551.65,629.95 555.80,625.80 C559.95,621.65 565.63,618.72 567.60,617.30" fill="none" stroke="#0000ff" stroke-width="3.5" stroke-linejoin="round" stroke-linecap="round"/><path d="M120.00,896.50 C133.33,896.45 178.33,897.07 200.00,896.20 C221.67,895.33 237.50,893.33 250.00,891.30 C262.50,889.27 266.65,886.88 275.00,884.00 C283.35,881.12 291.73,878.50 300.10,874.00 C308.47,869.50 316.85,863.17 325.20,857.00 C333.55,850.83 341.85,843.67 350.20,837.00 C358.55,830.33 366.95,823.58 375.30,817.00 C383.65,810.42 392.85,804.17 400.30,797.50 C407.75,790.83 413.65,783.58 420.00,777.00 C426.35,770.42 431.17,767.45 438.40,758.00 C445.63,748.55 455.05,732.15 463.40,720.30 C471.75,708.45 481.52,696.65 488.50,686.90 C495.48,677.15 500.10,668.70 505.30,661.80 C510.50,654.90 515.12,650.95 519.70,645.50 C524.28,640.05 528.42,634.02 532.80,629.10 C537.18,624.18 541.62,620.93 546.00,616.00 C550.38,611.07 555.50,603.88 559.10,599.50 C562.70,595.12 566.18,591.33 567.60,589.70" fill="none" stroke="#ff0000" stroke-width="3.5" stroke-linejoin="round" stroke-linecap="round"/><path d="M120.00,896.50 C130.00,896.45 163.33,896.75 180.00,896.20 C196.67,895.65 208.33,894.98 220.00,893.20 C231.67,891.42 240.83,888.53 250.00,885.50 C259.17,882.47 266.65,879.08 275.00,875.00 C283.35,870.92 291.73,866.33 300.10,861.00 C308.47,855.67 316.85,849.83 325.20,843.00 C333.55,836.17 341.85,827.92 350.20,820.00 C358.55,812.08 367.23,804.17 375.30,795.50 C383.37,786.83 393.72,774.10 398.60,768.00 C403.48,761.90 399.37,766.00 404.60,758.90 C409.83,751.80 420.20,737.97 430.00,725.40 C439.80,712.83 455.03,693.82 463.40,683.50 C471.77,673.18 474.62,669.90 480.20,663.50 C485.78,657.10 490.87,650.83 496.90,645.10 C502.93,639.37 510.97,633.08 516.40,629.10 C521.83,625.12 525.12,623.38 529.50,621.20 C533.88,619.02 538.32,617.42 542.70,616.00 C547.08,614.58 551.65,612.93 555.80,612.70 C559.95,612.47 565.63,614.28 567.60,614.60" fill="none" stroke="#0000ff" stroke-width="3.5" stroke-linejoin="round" stroke-linecap="round"/><path d="M120.00,896.50 C130.00,896.45 163.33,896.65 180.00,896.20 C196.67,895.75 208.33,895.50 220.00,893.80 C231.67,892.10 240.83,888.97 250.00,886.00 C259.17,883.03 266.65,880.00 275.00,876.00 C283.35,872.00 291.73,867.25 300.10,862.00 C308.47,856.75 316.85,851.25 325.20,844.50 C333.55,837.75 341.85,830.08 350.20,821.50 C358.55,812.92 367.23,802.75 375.30,793.00 C383.37,783.25 392.53,770.68 398.60,763.00 C404.67,755.32 406.47,754.02 411.70,746.90 C416.93,739.78 422.77,730.30 430.00,720.30 C437.23,710.30 448.13,696.37 455.10,686.90 C462.07,677.43 466.23,671.03 471.80,663.50 C477.37,655.97 483.80,646.88 488.50,641.70 C493.20,636.52 495.90,636.37 500.00,632.40 C504.10,628.43 508.72,622.62 513.10,617.90 C517.48,613.18 522.47,607.92 526.30,604.10 C530.13,600.28 532.82,597.07 536.10,595.00 C539.38,592.93 542.72,592.80 546.00,591.70 C549.28,590.60 552.75,589.28 555.80,588.40 C558.85,587.52 562.43,586.18 564.30,586.40 C566.17,586.62 566.55,589.15 567.00,589.70" fill="none" stroke="#ff0000" stroke-width="3.5" stroke-linejoin="round" stroke-linecap="round"/><path d="M120.00,896.50 C133.33,896.45 178.33,897.23 200.00,896.20 C221.67,895.17 237.50,892.53 250.00,890.30 C262.50,888.07 266.65,885.73 275.00,882.80 C283.35,879.87 291.73,877.30 300.10,872.70 C308.47,868.10 316.85,861.45 325.20,855.20 C333.55,848.95 341.85,841.88 350.20,835.20 C358.55,828.52 366.95,821.58 375.30,815.10 C383.65,808.62 392.43,803.68 400.30,796.30 C408.17,788.92 416.85,777.18 422.50,770.80 C428.15,764.42 428.07,764.73 434.20,758.00 C440.33,751.27 450.95,740.02 459.30,730.40 C467.65,720.78 476.63,709.78 484.30,700.30 C491.97,690.82 498.85,680.98 505.30,673.50 C511.75,666.02 517.87,661.17 523.00,655.40 C528.13,649.63 531.73,644.17 536.10,638.90 C540.47,633.63 544.82,628.93 549.20,623.80 C553.58,618.67 559.33,611.05 562.40,608.10 C565.47,605.15 566.73,606.43 567.60,606.10" fill="none" stroke="#000" stroke-width="4.5" stroke-linejoin="round" stroke-linecap="round"/><path d="M120.00,896.50 C130.00,896.45 163.33,896.70 180.00,896.20 C196.67,895.70 208.33,895.12 220.00,893.50 C231.67,891.88 240.83,889.33 250.00,886.50 C259.17,883.67 266.65,880.47 275.00,876.50 C283.35,872.53 291.73,867.92 300.10,862.70 C308.47,857.48 316.85,851.88 325.20,845.20 C333.55,838.52 341.85,830.33 350.20,822.60 C358.55,814.87 367.23,807.43 375.30,798.80 C383.37,790.17 393.08,777.45 398.60,770.80 C404.12,764.15 404.82,763.27 408.40,758.90 C411.98,754.53 416.50,748.67 420.10,744.60 C423.70,740.53 424.17,741.33 430.00,734.50 C435.83,727.67 448.13,712.65 455.10,703.60 C462.07,694.55 466.23,687.45 471.80,680.20 C477.37,672.95 483.80,665.00 488.50,660.10 C493.20,655.20 494.80,655.97 500.00,650.80 C505.20,645.63 514.23,634.90 519.70,629.10 C525.17,623.30 528.42,619.62 532.80,616.00 C537.18,612.38 542.17,609.48 546.00,607.40 C549.83,605.32 552.85,604.15 555.80,603.50 C558.75,602.85 561.73,603.28 563.70,603.50 C565.67,603.72 566.95,604.58 567.60,604.80" fill="none" stroke="#000" stroke-width="4.5" stroke-linejoin="round" stroke-linecap="round"/><line x1="125.20" y1="563.50" x2="176.90" y2="563.50" stroke="#0000ff" stroke-width="8"/><line x1="125.20" y1="610.30" x2="176.90" y2="610.30" stroke="#ff0000" stroke-width="8"/><line x1="125.20" y1="657.50" x2="176.90" y2="657.50" stroke="#000" stroke-width="8"/><g transform="translate(188.30,573.00)"><text x="-2.04" y="0.00" font-family='"Liberation Sans", sans-serif' font-size="25.50">Fast</text></g><g transform="translate(189.10,618.90)"><text x="-2.04" y="0.00" font-family='"Liberation Sans", sans-serif' font-size="25.50">Medium</text></g><g transform="translate(188.50,665.60)"><text x="-1.15" y="0.00" font-family='"Liberation Sans", sans-serif' font-size="25.50">Slow</text></g><line x1="193.20" y1="721.40" x2="138.10" y2="721.40" stroke="#000" stroke-width="1.8"/><polygon points="124.10,721.40 139.10,716.65 139.10,726.15" fill="#000"/><line x1="473.90" y1="749.70" x2="556.30" y2="749.70" stroke="#000" stroke-width="1.8"/><polygon points="572.30,749.70 555.30,754.20 555.30,745.20" fill="#000"/><rect x="120.0" y="534.2" width="449.29999999999995" height="362.5999999999999" fill="none" stroke="#000" stroke-width="2.4"/><line x1="120.00" y1="897.60" x2="133.00" y2="897.60" stroke="#000" stroke-width="2.6"/><line x1="120.00" y1="878.41" x2="126.00" y2="878.41" stroke="#000" stroke-width="2"/><line x1="120.00" y1="867.18" x2="126.00" y2="867.18" stroke="#000" stroke-width="2"/><line x1="120.00" y1="859.22" x2="126.00" y2="859.22" stroke="#000" stroke-width="2"/><line x1="120.00" y1="853.04" x2="126.00" y2="853.04" stroke="#000" stroke-width="2"/><line x1="120.00" y1="847.99" x2="126.00" y2="847.99" stroke="#000" stroke-width="2"/><line x1="120.00" y1="843.72" x2="126.00" y2="843.72" stroke="#000" stroke-width="2"/><line x1="120.00" y1="840.03" x2="126.00" y2="840.03" stroke="#000" stroke-width="2"/><line x1="120.00" y1="836.77" x2="126.00" y2="836.77" stroke="#000" stroke-width="2"/><line x1="120.00" y1="833.85" x2="133.00" y2="833.85" stroke="#000" stroke-width="2.6"/><line x1="120.00" y1="814.66" x2="126.00" y2="814.66" stroke="#000" stroke-width="2"/><line x1="120.00" y1="803.43" x2="126.00" y2="803.43" stroke="#000" stroke-width="2"/><line x1="120.00" y1="795.47" x2="126.00" y2="795.47" stroke="#000" stroke-width="2"/><line x1="120.00" y1="789.29" x2="126.00" y2="789.29" stroke="#000" stroke-width="2"/><line x1="120.00" y1="784.24" x2="126.00" y2="784.24" stroke="#000" stroke-width="2"/><line x1="120.00" y1="779.97" x2="126.00" y2="779.97" stroke="#000" stroke-width="2"/><line x1="120.00" y1="776.28" x2="126.00" y2="776.28" stroke="#000" stroke-width="2"/><line x1="120.00" y1="773.02" x2="126.00" y2="773.02" stroke="#000" stroke-width="2"/><line x1="120.00" y1="770.10" x2="133.00" y2="770.10" stroke="#000" stroke-width="2.6"/><line x1="120.00" y1="750.91" x2="126.00" y2="750.91" stroke="#000" stroke-width="2"/><line x1="120.00" y1="739.68" x2="126.00" y2="739.68" stroke="#000" stroke-width="2"/><line x1="120.00" y1="731.72" x2="126.00" y2="731.72" stroke="#000" stroke-width="2"/><line x1="120.00" y1="725.54" x2="126.00" y2="725.54" stroke="#000" stroke-width="2"/><line x1="120.00" y1="720.49" x2="126.00" y2="720.49" stroke="#000" stroke-width="2"/><line x1="120.00" y1="716.22" x2="126.00" y2="716.22" stroke="#000" stroke-width="2"/><line x1="120.00" y1="712.53" x2="126.00" y2="712.53" stroke="#000" stroke-width="2"/><line x1="120.00" y1="709.27" x2="126.00" y2="709.27" stroke="#000" stroke-width="2"/><line x1="120.00" y1="706.35" x2="133.00" y2="706.35" stroke="#000" stroke-width="2.6"/><line x1="120.00" y1="687.16" x2="126.00" y2="687.16" stroke="#000" stroke-width="2"/><line x1="120.00" y1="675.93" x2="126.00" y2="675.93" stroke="#000" stroke-width="2"/><line x1="120.00" y1="667.97" x2="126.00" y2="667.97" stroke="#000" stroke-width="2"/><line x1="120.00" y1="661.79" x2="126.00" y2="661.79" stroke="#000" stroke-width="2"/><line x1="120.00" y1="656.74" x2="126.00" y2="656.74" stroke="#000" stroke-width="2"/><line x1="120.00" y1="652.47" x2="126.00" y2="652.47" stroke="#000" stroke-width="2"/><line x1="120.00" y1="648.78" x2="126.00" y2="648.78" stroke="#000" stroke-width="2"/><line x1="120.00" y1="645.52" x2="126.00" y2="645.52" stroke="#000" stroke-width="2"/><line x1="120.00" y1="642.60" x2="133.00" y2="642.60" stroke="#000" stroke-width="2.6"/><line x1="120.00" y1="623.41" x2="126.00" y2="623.41" stroke="#000" stroke-width="2"/><line x1="120.00" y1="612.18" x2="126.00" y2="612.18" stroke="#000" stroke-width="2"/><line x1="120.00" y1="604.22" x2="126.00" y2="604.22" stroke="#000" stroke-width="2"/><line x1="120.00" y1="598.04" x2="126.00" y2="598.04" stroke="#000" stroke-width="2"/><line x1="120.00" y1="592.99" x2="126.00" y2="592.99" stroke="#000" stroke-width="2"/><line x1="120.00" y1="588.72" x2="126.00" y2="588.72" stroke="#000" stroke-width="2"/><line x1="120.00" y1="585.03" x2="126.00" y2="585.03" stroke="#000" stroke-width="2"/><line x1="120.00" y1="581.77" x2="126.00" y2="581.77" stroke="#000" stroke-width="2"/><line x1="120.00" y1="578.85" x2="133.00" y2="578.85" stroke="#000" stroke-width="2.6"/><line x1="120.00" y1="559.66" x2="126.00" y2="559.66" stroke="#000" stroke-width="2"/><line x1="120.00" y1="548.43" x2="126.00" y2="548.43" stroke="#000" stroke-width="2"/><line x1="120.00" y1="540.47" x2="126.00" y2="540.47" stroke="#000" stroke-width="2"/><line x1="569.30" y1="896.50" x2="562.30" y2="896.50" stroke="#000" stroke-width="2"/><line x1="569.30" y1="775.75" x2="562.30" y2="775.75" stroke="#000" stroke-width="2"/><line x1="569.30" y1="655.00" x2="562.30" y2="655.00" stroke="#000" stroke-width="2"/><line x1="569.30" y1="534.25" x2="562.30" y2="534.25" stroke="#000" stroke-width="2"/><line x1="569.30" y1="836.12" x2="565.30" y2="836.12" stroke="#000" stroke-width="2"/><line x1="569.30" y1="715.38" x2="565.30" y2="715.38" stroke="#000" stroke-width="2"/><line x1="569.30" y1="594.62" x2="565.30" y2="594.62" stroke="#000" stroke-width="2"/><line x1="120.00" y1="896.80" x2="120.00" y2="883.80" stroke="#000" stroke-width="4"/><line x1="120.00" y1="534.20" x2="120.00" y2="540.20" stroke="#000" stroke-width="2.2"/><line x1="344.65" y1="896.80" x2="344.65" y2="883.80" stroke="#000" stroke-width="4"/><line x1="344.65" y1="534.20" x2="344.65" y2="540.20" stroke="#000" stroke-width="2.2"/><line x1="569.30" y1="896.80" x2="569.30" y2="883.80" stroke="#000" stroke-width="4"/><line x1="569.30" y1="534.20" x2="569.30" y2="540.20" stroke="#000" stroke-width="2.2"/><line x1="232.32" y1="896.80" x2="232.32" y2="889.80" stroke="#000" stroke-width="4"/><line x1="232.32" y1="534.20" x2="232.32" y2="538.20" stroke="#000" stroke-width="2.2"/><line x1="456.97" y1="896.80" x2="456.97" y2="889.80" stroke="#000" stroke-width="4"/><line x1="456.97" y1="534.20" x2="456.97" y2="538.20" stroke="#000" stroke-width="2.2"/><g transform="translate(63.30,649.70)"><text x="-2.17" y="0.00" font-family='"Liberation Sans", sans-serif' font-size="29.00">10</text><text x="30.08" y="-12.30" font-family='"Liberation Sans", sans-serif' font-size="20.00">0</text></g><g transform="translate(53.30,779.00)"><text x="-2.17" y="0.00" font-family='"Liberation Sans", sans-serif' font-size="29.00">10</text><text x="30.08" y="-13.00" font-family='"Liberation Sans", sans-serif' font-size="20.00">–2</text></g><g transform="translate(53.30,902.30)"><text x="-2.17" y="0.00" font-family='"Liberation Sans", sans-serif' font-size="29.00">10</text><text x="30.08" y="-12.50" font-family='"Liberation Sans", sans-serif' font-size="20.00">–4</text></g><g transform="translate(582.70,543.00)"><text x="-2.17" y="0.00" font-family='"Liberation Sans", sans-serif' font-size="29.00">15</text></g><g transform="translate(582.70,664.00)"><text x="-2.17" y="0.00" font-family='"Liberation Sans", sans-serif' font-size="29.00">10</text></g><g transform="translate(582.70,784.00)"><text x="-1.16" y="0.00" font-family='"Liberation Sans", sans-serif' font-size="29.00">5</text></g><g transform="translate(582.70,904.00)"><text x="-1.16" y="0.00" font-family='"Liberation Sans", sans-serif' font-size="29.00">0</text></g><g transform="translate(120.00,930.70)"><text x="-20.23" y="0.00" font-family='"Liberation Sans", sans-serif' font-size="29.00">0.0</text></g><g transform="translate(344.65,930.70)"><text x="-20.16" y="0.00" font-family='"Liberation Sans", sans-serif' font-size="29.00">0.5</text></g><g transform="translate(569.30,930.70)"><text x="-20.73" y="0.00" font-family='"Liberation Sans", sans-serif' font-size="29.00">1.0</text></g><g transform="translate(298.00,975.00)"><text x="-2.51" y="0.00" font-family='"Liberation Sans", sans-serif' font-size="29.50" font-style="italic">V</text><text x="17.17" y="8.50" font-family='"Liberation Sans", sans-serif' font-size="21.00">BG</text><text x="47.51" y="0.00" font-family='"Liberation Sans", sans-serif' font-size="29.50"> (V)</text></g><g transform="translate(26.70,764.00) rotate(-90)"><text x="-1.18" y="0.00" font-family='"Liberation Sans", sans-serif' font-size="29.50" font-style="italic">I</text><text x="7.02" y="8.50" font-family='"Liberation Sans", sans-serif' font-size="21.00">DS</text><text x="36.19" y="0.00" font-family='"Liberation Sans", sans-serif' font-size="29.50"> (µA)</text></g><g transform="translate(370.40,878.50)"><text x="-2.51" y="0.00" font-family='"Liberation Sans", sans-serif' font-size="29.50" font-style="italic">V</text><text x="17.17" y="8.10" font-family='"Liberation Sans", sans-serif' font-size="21.00">DS</text><text x="46.34" y="0.00" font-family='"Liberation Sans", sans-serif' font-size="29.50"> = 100 mV</text></g><g transform="translate(2.40,533.70) scale(0.9878,1.0000)"><text x="-1.72" y="0.00" font-family='"Liberation Sans", sans-serif' font-size="43.00" font-weight="bold">c</text></g><path d="M863.80,882.80 L868.30,881.87 L872.80,880.93 L877.30,880.00 L881.65,878.84 L886.00,877.90 L890.33,877.26 L894.67,877.12 L899.00,876.34 L903.33,876.19 L907.67,875.65 L912.00,875.30 L916.33,874.86 L920.65,874.95 L924.98,874.50 L929.30,874.56 L933.62,874.17 L937.95,874.00 L942.27,874.03 L946.60,873.90 L950.93,874.00 L955.25,873.47 L959.58,873.43 L963.90,873.58 L968.23,873.67 L972.55,873.35 L976.88,873.14 L981.20,873.39 L985.52,872.73 L989.85,873.12 L994.17,872.67 L998.50,872.70 L1002.50,872.43 L1006.50,872.35 L1010.50,872.40 L1014.50,872.64 L1018.50,872.20 L1022.50,872.38 L1026.50,872.35 L1030.50,872.13 L1034.50,872.17 L1038.50,871.82 L1042.50,871.76 L1046.50,871.79 L1050.50,871.90 L1054.62,871.93 L1058.75,871.71 L1062.88,871.56 L1067.00,871.65 L1071.12,871.50 L1075.25,871.33 L1079.38,871.55 L1083.50,871.42 L1087.62,871.07 L1091.75,871.19 L1095.88,871.09 L1100.00,871.00 L1104.04,871.20 L1108.08,871.08 L1112.11,870.79 L1116.15,871.17 L1120.19,870.63 L1124.23,870.78 L1128.26,870.96 L1132.30,870.56 L1136.34,870.74 L1140.38,870.44 L1144.42,870.79 L1148.45,870.82 L1152.49,870.68 L1156.53,870.83 L1160.57,870.46 L1164.60,870.66 L1168.64,870.58 L1172.68,870.54 L1176.72,870.44 L1180.75,870.64 L1184.79,870.67 L1188.83,870.36 L1192.87,870.45 L1196.91,870.06 L1200.94,870.41 L1204.98,870.35 L1209.02,870.53 L1213.06,870.40 L1217.09,870.05 L1221.13,870.08 L1225.17,870.22 L1229.21,869.81 L1233.25,870.04 L1237.28,869.84 L1241.32,869.78 L1245.36,869.72 L1249.40,870.11 L1253.43,869.70 L1257.47,869.74 L1261.51,869.80 L1265.55,870.06 L1269.58,869.56 L1273.62,869.75 L1277.66,869.78 L1281.70,869.96 L1285.74,869.89 L1289.77,869.89 L1293.81,869.51 L1297.85,869.56 L1301.89,869.50 L1305.92,869.79 L1309.96,869.80 L1314.00,869.50" fill="none" stroke="#000" stroke-width="4.0" stroke-linejoin="round" stroke-linecap="round"/><path d="M863.80,882.80 L868.30,881.37 L872.80,879.93 L877.30,878.50 L881.62,876.64 L885.95,875.01 L890.27,873.39 L894.60,871.90 L898.93,870.57 L903.27,869.56 L907.60,868.45 L911.93,867.09 L916.27,865.77 L920.60,864.90 L924.93,864.31 L929.25,863.75 L933.58,863.33 L937.90,863.02 L942.23,862.33 L946.55,861.68 L950.88,861.21 L955.20,860.60 L959.53,860.45 L963.86,859.81 L968.19,860.06 L972.52,859.73 L976.85,859.52 L981.18,859.22 L985.51,858.72 L989.84,858.46 L994.17,858.02 L998.50,858.00 L1002.50,857.95 L1006.50,857.48 L1010.50,857.35 L1014.50,857.30 L1018.50,857.14 L1022.50,857.12 L1026.50,856.82 L1030.50,856.65 L1034.50,856.61 L1038.50,856.45 L1042.50,856.48 L1046.50,856.15 L1050.50,856.30 L1054.62,856.45 L1058.75,856.22 L1062.88,855.86 L1067.00,855.85 L1071.12,855.83 L1075.25,855.77 L1079.38,855.55 L1083.50,855.91 L1087.62,855.92 L1091.75,855.53 L1095.88,855.47 L1100.00,855.40 L1104.14,855.10 L1108.29,855.06 L1112.43,855.16 L1116.57,855.06 L1120.71,855.35 L1124.86,854.90 L1129.00,854.76 L1133.14,855.27 L1137.29,854.97 L1141.43,854.69 L1145.57,854.88 L1149.71,854.52 L1153.86,854.77 L1158.00,854.70 L1162.00,854.94 L1166.00,854.83 L1170.00,854.69 L1174.00,854.38 L1178.00,854.40 L1182.00,854.24 L1186.00,854.56 L1190.00,854.37 L1194.00,854.48 L1198.00,854.16 L1202.00,854.05 L1206.00,854.36 L1210.00,854.42 L1214.00,854.30 L1218.00,854.23 L1222.00,854.19 L1226.00,854.10 L1230.00,853.75 L1234.00,853.88 L1238.00,853.74 L1242.00,853.50 L1246.00,853.46 L1250.00,853.57 L1254.00,853.51 L1258.00,853.73 L1262.00,853.84 L1266.00,853.49 L1270.00,853.74 L1274.00,853.73 L1278.00,853.67 L1282.00,853.27 L1286.00,853.14 L1290.00,853.10 L1294.00,853.04 L1298.00,853.00 L1302.00,853.21 L1306.00,853.33 L1310.00,853.25 L1314.00,853.00" fill="none" stroke="#ff0000" stroke-width="4.0" stroke-linejoin="round" stroke-linecap="round"/><path d="M863.80,882.80 L868.30,880.70 L872.80,878.60 L877.30,876.50 L881.63,874.27 L885.97,872.17 L890.30,870.06 L894.63,867.34 L898.97,865.53 L903.30,863.20 L907.63,861.47 L911.97,859.36 L916.30,857.33 L920.63,855.12 L924.97,852.89 L929.30,851.10 L933.62,850.15 L937.93,848.68 L942.25,847.86 L946.57,846.83 L950.88,845.28 L955.20,844.20 L959.54,843.37 L963.88,842.99 L968.21,842.07 L972.55,840.92 L976.89,840.13 L981.23,839.38 L985.56,839.15 L989.90,838.10 L994.23,837.88 L998.56,836.99 L1002.89,837.04 L1007.22,836.72 L1011.55,836.06 L1015.88,835.42 L1020.21,835.12 L1024.54,834.40 L1028.87,833.89 L1033.20,833.80 L1037.38,833.91 L1041.55,833.47 L1045.73,833.16 L1049.90,833.23 L1054.08,832.66 L1058.25,832.75 L1062.42,832.50 L1066.60,831.85 L1070.78,831.66 L1074.95,831.47 L1079.12,831.21 L1083.30,831.24 L1087.47,830.79 L1091.65,830.68 L1095.83,830.26 L1100.00,830.30 L1104.15,830.47 L1108.30,829.96 L1112.45,829.92 L1116.60,829.89 L1120.75,829.99 L1124.90,829.54 L1129.05,829.77 L1133.20,829.36 L1137.35,829.26 L1141.50,829.13 L1145.65,828.66 L1149.80,828.84 L1153.95,828.54 L1158.10,828.30 L1162.25,828.74 L1166.40,828.18 L1170.55,828.27 L1174.70,828.33 L1178.85,828.09 L1183.00,827.81 L1187.15,827.83 L1191.30,827.70 L1195.39,827.71 L1199.48,827.83 L1203.57,827.32 L1207.66,827.61 L1211.75,827.36 L1215.84,827.34 L1219.93,827.66 L1224.02,827.44 L1228.11,827.44 L1232.20,827.55 L1236.29,827.62 L1240.38,827.26 L1244.47,827.35 L1248.56,827.24 L1252.65,827.21 L1256.74,827.30 L1260.83,827.10 L1264.92,827.12 L1269.01,827.05 L1273.10,827.34 L1277.19,827.14 L1281.28,827.23 L1285.37,827.24 L1289.46,826.73 L1293.55,826.91 L1297.64,827.14 L1301.73,827.04 L1305.82,826.51 L1309.91,826.47 L1314.00,826.70" fill="none" stroke="#00ff00" stroke-width="4.0" stroke-linejoin="round" stroke-linecap="round"/><path d="M863.80,882.80 L868.30,880.20 L872.80,877.60 L877.30,875.00 L881.63,872.39 L885.97,869.47 L890.30,867.09 L894.63,864.37 L898.97,862.42 L903.30,859.70 L907.63,856.53 L911.97,853.20 L916.30,849.00 L920.63,846.12 L924.97,842.61 L929.30,839.00 L933.44,836.56 L937.58,835.22 L941.72,833.23 L945.86,830.40 L950.00,828.60 L954.46,827.32 L958.91,825.04 L963.37,823.40 L967.83,822.18 L972.29,820.29 L976.74,817.89 L981.20,816.50 L985.53,815.23 L989.85,814.12 L994.17,812.74 L998.50,811.40 L1002.83,810.32 L1007.15,809.52 L1011.47,807.62 L1015.80,806.90 L1020.14,806.30 L1024.47,805.54 L1028.81,804.47 L1033.15,804.13 L1037.49,803.77 L1041.83,803.01 L1046.16,801.91 L1050.50,801.70 L1054.83,801.90 L1059.17,801.42 L1063.50,801.32 L1067.83,800.17 L1072.17,800.05 L1076.50,800.00 L1081.20,799.36 L1085.90,799.92 L1090.60,799.23 L1095.30,798.91 L1100.00,799.10 L1104.12,798.59 L1108.23,798.64 L1112.35,798.12 L1116.47,797.13 L1120.58,796.58 L1124.70,796.50 L1128.86,796.67 L1133.03,796.07 L1137.19,795.95 L1141.35,795.09 L1145.51,794.81 L1149.67,795.19 L1153.84,794.68 L1158.00,794.50 L1162.16,793.86 L1166.33,794.51 L1170.49,794.00 L1174.65,793.95 L1178.81,793.02 L1182.97,793.58 L1187.14,792.58 L1191.30,792.80 L1195.47,793.00 L1199.65,792.43 L1203.83,792.15 L1208.00,792.20 L1212.17,792.41 L1216.35,791.59 L1220.53,791.29 L1224.70,791.50 L1228.76,791.41 L1232.82,791.01 L1236.88,790.77 L1240.94,790.71 L1245.00,790.48 L1249.05,790.52 L1253.11,790.52 L1257.17,790.40 L1261.23,790.74 L1265.29,790.15 L1269.35,790.25 L1273.41,789.81 L1277.47,789.87 L1281.53,789.43 L1285.59,789.55 L1289.65,789.20 L1293.70,789.80 L1297.76,789.51 L1301.82,789.03 L1305.88,789.20 L1309.94,789.55 L1314.00,789.00" fill="none" stroke="#0000ff" stroke-width="4.0" stroke-linejoin="round" stroke-linecap="round"/><path d="M863.80,882.80 L868.30,879.87 L872.80,876.93 L877.30,874.00 L881.63,870.66 L885.97,868.42 L890.30,865.08 L894.63,862.20 L898.97,859.58 L903.30,856.30 L907.63,852.14 L911.97,848.21 L916.30,844.34 L920.63,840.58 L924.97,835.89 L929.30,832.00 L933.44,827.49 L937.58,822.53 L941.72,817.62 L945.86,812.54 L950.00,807.80 L954.35,804.62 L958.70,801.30 L963.05,798.35 L967.40,795.70 L971.90,792.83 L976.40,791.06 L980.90,788.14 L985.40,785.60 L989.90,783.50 L994.22,781.65 L998.53,780.97 L1002.85,779.57 L1007.17,777.94 L1011.48,776.12 L1015.80,774.90 L1020.13,773.19 L1024.47,771.79 L1028.80,770.51 L1033.13,768.76 L1037.47,767.60 L1041.80,766.20 L1046.13,764.81 L1050.47,764.36 L1054.80,763.22 L1059.13,761.65 L1063.47,760.19 L1067.80,759.30 L1071.83,759.12 L1075.85,757.81 L1079.88,757.21 L1083.90,756.20 L1087.92,755.93 L1091.95,755.37 L1095.97,754.75 L1100.00,754.10 L1104.12,753.12 L1108.23,752.74 L1112.35,751.55 L1116.47,751.13 L1120.58,750.27 L1124.70,750.00 L1128.86,749.56 L1133.03,748.87 L1137.19,748.51 L1141.35,748.45 L1145.51,748.05 L1149.67,748.06 L1153.84,747.67 L1158.00,747.30 L1162.16,747.35 L1166.33,747.06 L1170.49,746.92 L1174.65,746.88 L1178.81,746.19 L1182.97,745.93 L1187.14,746.38 L1191.30,745.70 L1195.47,745.26 L1199.65,745.75 L1203.83,745.58 L1208.00,744.89 L1212.17,745.60 L1216.35,745.57 L1220.53,745.21 L1224.70,745.00 L1228.76,745.19 L1232.82,745.22 L1236.88,744.50 L1240.94,744.84 L1245.00,744.78 L1249.05,745.06 L1253.11,744.99 L1257.17,744.96 L1261.23,744.67 L1265.29,744.94 L1269.35,744.68 L1273.41,744.65 L1277.47,744.14 L1281.53,743.89 L1285.59,743.95 L1289.65,744.13 L1293.70,743.83 L1297.76,744.52 L1301.82,744.19 L1305.88,744.22 L1309.94,744.17 L1314.00,744.00" fill="none" stroke="#00ffff" stroke-width="4.0" stroke-linejoin="round" stroke-linecap="round"/><path d="M863.80,882.80 L868.30,879.53 L872.80,876.27 L877.30,873.00 L881.63,869.89 L885.97,866.25 L890.30,862.20 L894.63,859.95 L898.97,856.51 L903.30,852.80 L907.63,848.47 L911.97,844.18 L916.30,840.02 L920.63,834.86 L924.97,831.46 L929.30,826.80 L933.62,821.84 L937.93,816.97 L942.25,812.62 L946.57,808.65 L950.88,803.30 L955.20,799.10 L959.53,795.12 L963.87,791.13 L968.20,786.14 L972.53,781.67 L976.87,777.49 L981.20,773.20 L985.53,769.11 L989.85,764.87 L994.17,760.31 L998.50,755.80 L1002.83,752.97 L1007.15,749.16 L1011.47,746.23 L1015.80,743.70 L1020.13,741.34 L1024.47,740.01 L1028.80,737.38 L1033.13,735.73 L1037.47,732.93 L1041.80,731.60 L1046.13,728.80 L1050.47,726.91 L1054.80,725.29 L1059.13,723.14 L1063.47,720.93 L1067.80,718.50 L1071.83,716.96 L1075.85,716.02 L1079.88,714.70 L1083.90,713.45 L1087.92,711.72 L1091.95,711.55 L1095.97,709.33 L1100.00,708.50 L1104.00,708.03 L1108.00,706.83 L1112.00,704.40 L1116.00,703.87 L1120.00,703.23 L1124.00,702.30 L1128.00,700.50 L1132.29,699.71 L1136.57,698.75 L1140.86,697.95 L1145.14,698.27 L1149.43,696.52 L1153.71,696.33 L1158.00,695.50 L1162.12,694.75 L1166.25,695.03 L1170.38,695.38 L1174.50,693.99 L1178.62,694.70 L1182.75,694.01 L1186.88,694.29 L1191.00,693.50 L1195.25,693.47 L1199.50,692.50 L1203.75,693.12 L1208.00,692.23 L1212.25,691.27 L1216.50,690.93 L1220.75,691.30 L1225.00,691.00 L1229.38,690.81 L1233.75,690.47 L1238.12,690.12 L1242.50,690.28 L1246.88,690.12 L1251.25,690.73 L1255.62,689.43 L1260.00,690.00 L1264.15,690.31 L1268.31,690.40 L1272.46,689.35 L1276.62,690.44 L1280.77,690.11 L1284.92,690.33 L1289.08,689.44 L1293.23,689.51 L1297.38,689.50 L1301.54,690.31 L1305.69,689.70 L1309.85,689.34 L1314.00,689.50" fill="none" stroke="#ff00ff" stroke-width="4.0" stroke-linejoin="round" stroke-linecap="round"/><path d="M863.80,882.80 L868.30,879.20 L872.80,875.60 L877.30,872.00 L881.63,868.13 L885.97,864.15 L890.30,860.07 L894.63,856.38 L898.97,853.64 L903.30,849.40 L907.63,844.47 L911.97,840.74 L916.30,835.15 L920.63,830.54 L924.97,826.25 L929.30,821.60 L933.62,816.27 L937.93,811.62 L942.25,807.54 L946.57,802.54 L950.88,797.54 L955.20,792.20 L959.53,788.05 L963.87,784.11 L968.20,779.82 L972.53,774.94 L976.87,770.84 L981.20,766.20 L985.36,761.07 L989.52,757.53 L993.68,752.63 L997.84,748.55 L1002.00,743.70 L1006.33,739.15 L1010.65,733.90 L1014.97,728.82 L1019.30,724.70 L1023.80,720.44 L1028.30,714.46 L1032.80,710.08 L1037.30,705.04 L1041.80,700.40 L1046.13,697.23 L1050.47,694.97 L1054.80,692.42 L1059.13,688.53 L1063.47,686.20 L1067.80,683.10 L1072.12,680.55 L1076.45,678.63 L1080.77,676.13 L1085.10,674.00 L1090.07,670.53 L1095.03,667.53 L1100.00,665.00 L1104.00,662.45 L1108.00,661.28 L1112.00,658.57 L1116.00,656.04 L1120.00,654.85 L1124.00,652.84 L1128.00,650.00 L1132.03,648.93 L1136.07,647.50 L1140.10,646.57 L1144.13,645.43 L1148.17,644.78 L1152.20,644.00 L1156.25,642.59 L1160.30,641.97 L1164.35,641.16 L1168.40,640.76 L1172.45,640.38 L1176.50,639.00 L1180.53,638.38 L1184.57,636.94 L1188.60,635.98 L1192.63,635.17 L1196.67,633.99 L1200.70,633.20 L1204.75,632.02 L1208.80,630.69 L1212.85,630.04 L1216.90,630.05 L1220.95,627.93 L1225.00,627.50 L1229.03,626.60 L1233.07,625.88 L1237.10,625.31 L1241.13,623.50 L1245.17,622.68 L1249.20,622.10 L1254.10,619.95 L1259.00,618.50 L1263.83,619.06 L1268.67,619.82 L1273.50,620.60 L1278.33,622.20 L1283.17,623.02 L1288.00,623.50 L1292.33,624.02 L1296.67,622.83 L1301.00,622.85 L1305.33,623.79 L1309.67,624.05 L1314.00,623.50" fill="none" stroke="#ffff00" stroke-width="4.0" stroke-linejoin="round" stroke-linecap="round"/><path d="M863.80,882.80 L868.30,878.57 L872.80,874.33 L877.30,870.10 L881.63,866.02 L885.97,862.17 L890.30,857.20 L894.63,853.79 L898.97,850.62 L903.30,845.90 L907.63,841.52 L911.97,836.67 L916.30,831.96 L920.63,825.90 L924.97,820.77 L929.30,816.50 L933.44,810.75 L937.58,806.14 L941.72,801.19 L945.86,796.41 L950.00,790.50 L954.52,785.31 L959.04,779.66 L963.56,774.30 L968.08,768.27 L972.60,762.80 L977.10,758.02 L981.60,752.34 L986.10,748.67 L990.60,742.93 L995.10,738.50 L1000.27,732.24 L1005.43,724.87 L1010.60,717.70 L1015.12,712.89 L1019.64,708.10 L1024.16,703.80 L1028.68,699.92 L1033.20,695.20 L1037.53,690.09 L1041.85,683.73 L1046.17,678.24 L1050.50,673.50 L1054.83,669.79 L1059.15,666.13 L1063.47,662.07 L1067.80,658.50 L1072.12,654.26 L1076.45,651.06 L1080.77,646.32 L1085.10,643.30 L1090.07,638.95 L1095.03,635.17 L1100.00,631.20 L1104.00,629.05 L1108.00,625.66 L1112.00,623.16 L1116.00,619.62 L1120.00,616.35 L1124.00,613.48 L1128.00,611.00 L1132.03,609.24 L1136.07,606.33 L1140.10,603.19 L1144.13,600.23 L1148.17,598.50 L1152.20,596.00 L1156.25,594.16 L1160.30,591.64 L1164.35,589.26 L1168.40,587.80 L1172.45,586.10 L1176.50,583.30 L1180.53,581.25 L1184.57,579.32 L1188.60,578.19 L1192.63,576.71 L1196.67,575.51 L1200.70,573.60 L1204.75,571.50 L1208.80,570.84 L1212.85,569.13 L1216.90,567.14 L1220.95,565.05 L1225.00,563.90 L1229.03,563.17 L1233.07,560.63 L1237.10,559.96 L1241.13,557.54 L1245.17,556.04 L1249.20,555.00 L1253.25,554.38 L1257.30,552.61 L1261.35,552.62 L1265.40,550.86 L1269.45,549.33 L1273.50,548.80 L1277.53,547.79 L1281.57,547.53 L1285.60,547.36 L1289.63,547.25 L1293.67,545.40 L1297.70,545.40 L1301.78,544.75 L1305.85,543.99 L1309.92,544.73 L1314.00,543.50" fill="none" stroke="#808000" stroke-width="4.0" stroke-linejoin="round" stroke-linecap="round"/><line x1="963.00" y1="881.40" x2="927.15" y2="820.64" stroke="#000" stroke-width="6.2"/><polygon points="911.90,794.80 934.97,817.18 920.33,825.82" fill="#000"/><rect x="864.3" y="534.2" width="449.70000000000005" height="362.0999999999999" fill="none" stroke="#000" stroke-width="2.4"/><line x1="864.30" y1="882.30" x2="877.30" y2="882.30" stroke="#000" stroke-width="2.2"/><line x1="1314.00" y1="882.30" x2="1301.00" y2="882.30" stroke="#000" stroke-width="2.2"/><line x1="864.30" y1="795.21" x2="871.30" y2="795.21" stroke="#000" stroke-width="2.2"/><line x1="1314.00" y1="795.21" x2="1307.00" y2="795.21" stroke="#000" stroke-width="2.2"/><line x1="864.30" y1="708.12" x2="877.30" y2="708.12" stroke="#000" stroke-width="2.2"/><line x1="1314.00" y1="708.12" x2="1301.00" y2="708.12" stroke="#000" stroke-width="2.2"/><line x1="864.30" y1="621.03" x2="871.30" y2="621.03" stroke="#000" stroke-width="2.2"/><line x1="1314.00" y1="621.03" x2="1307.00" y2="621.03" stroke="#000" stroke-width="2.2"/><line x1="864.30" y1="533.94" x2="877.30" y2="533.94" stroke="#000" stroke-width="2.2"/><line x1="1314.00" y1="533.94" x2="1301.00" y2="533.94" stroke="#000" stroke-width="2.2"/><line x1="864.30" y1="896.30" x2="864.30" y2="883.30" stroke="#000" stroke-width="4"/><line x1="864.30" y1="534.20" x2="864.30" y2="547.20" stroke="#000" stroke-width="4"/><line x1="976.72" y1="896.30" x2="976.72" y2="889.30" stroke="#000" stroke-width="4"/><line x1="976.72" y1="534.20" x2="976.72" y2="541.20" stroke="#000" stroke-width="4"/><line x1="1089.15" y1="896.30" x2="1089.15" y2="883.30" stroke="#000" stroke-width="4"/><line x1="1089.15" y1="534.20" x2="1089.15" y2="547.20" stroke="#000" stroke-width="4"/><line x1="1201.58" y1="896.30" x2="1201.58" y2="889.30" stroke="#000" stroke-width="4"/><line x1="1201.58" y1="534.20" x2="1201.58" y2="541.20" stroke="#000" stroke-width="4"/><line x1="1314.00" y1="896.30" x2="1314.00" y2="883.30" stroke="#000" stroke-width="4"/><line x1="1314.00" y1="534.20" x2="1314.00" y2="547.20" stroke="#000" stroke-width="4"/><g transform="translate(850.00,543.00)"><text x="-30.74" y="0.00" font-family='"Liberation Sans", sans-serif' font-size="29.00">12</text></g><g transform="translate(850.00,716.30)"><text x="-14.94" y="0.00" font-family='"Liberation Sans", sans-serif' font-size="29.00">6</text></g><g transform="translate(850.00,891.30)"><text x="-15.08" y="0.00" font-family='"Liberation Sans", sans-serif' font-size="29.00">0</text></g><g transform="translate(864.30,930.00)"><text x="-20.23" y="0.00" font-family='"Liberation Sans", sans-serif' font-size="29.00">0.0</text></g><g transform="translate(1089.15,930.00)"><text x="-20.16" y="0.00" font-family='"Liberation Sans", sans-serif' font-size="29.00">0.5</text></g><g transform="translate(1314.00,930.00)"><text x="-20.73" y="0.00" font-family='"Liberation Sans", sans-serif' font-size="29.00">1.0</text></g><g transform="translate(1047.00,975.00)"><text x="-2.51" y="0.00" font-family='"Liberation Sans", sans-serif' font-size="29.50" font-style="italic">V</text><text x="17.17" y="8.50" font-family='"Liberation Sans", sans-serif' font-size="21.00">DS</text><text x="46.34" y="0.00" font-family='"Liberation Sans", sans-serif' font-size="29.50"> (V)</text></g><g transform="translate(803.00,792.30) rotate(-90)"><text x="-1.18" y="0.00" font-family='"Liberation Sans", sans-serif' font-size="29.50" font-style="italic">I</text><text x="7.02" y="8.50" font-family='"Liberation Sans", sans-serif' font-size="21.00">DS</text><text x="36.19" y="0.00" font-family='"Liberation Sans", sans-serif' font-size="29.50"> (µA µm</text><text x="139.02" y="-12.50" font-family='"Liberation Sans", sans-serif' font-size="20.00">–1</text><text x="161.27" y="0.00" font-family='"Liberation Sans", sans-serif' font-size="29.50">)</text></g><g transform="translate(885.30,575.70) scale(0.9798,1.0000)"><text x="-2.12" y="0.00" font-family='"Liberation Sans", sans-serif' font-size="25.00" font-style="italic">V</text><text x="14.55" y="7.50" font-family='"Liberation Sans", sans-serif' font-size="18.00">BG</text><text x="40.56" y="0.00" font-family='"Liberation Sans", sans-serif' font-size="25.00">: 0.40 V</text></g><line x1="1012.00" y1="568.30" x2="1034.50" y2="568.30" stroke="#000" stroke-width="1.5"/><path d="M1029.5,563.8 L1035.2,568.3 L1029.5,572.8" fill="none" stroke="#000" stroke-width="1.5"/><g transform="translate(1038.00,575.70) scale(0.9637,1.0000)"><text x="-1.88" y="0.00" font-family='"Liberation Sans", sans-serif' font-size="25.00">1.10 V</text></g><g transform="translate(884.00,625.50) scale(0.9768,1.0000)"><text x="-1.04" y="0.00" font-family='"Liberation Serif", serif' font-size="26.00">Δ</text><text x="15.68" y="0.00" font-family='"Liberation Sans", sans-serif' font-size="25.00" font-style="italic">V</text><text x="32.35" y="7.50" font-family='"Liberation Sans", sans-serif' font-size="18.00">BG</text><text x="58.36" y="0.00" font-family='"Liberation Sans", sans-serif' font-size="25.00"> = 0.10 V</text></g><g transform="translate(756.50,534.00) scale(0.9993,1.0000)"><text x="-1.72" y="0.00" font-family='"Liberation Sans", sans-serif' font-size="43.00" font-weight="bold">d</text></g><g filter="url(#sh)"><rect x="138.80" y="1552.30" width="134.30" height="52.60" fill="url(#gp)"/><rect x="283.60" y="1551.20" width="236.10" height="53.60" fill="url(#gg)"/><rect x="530.80" y="1552.50" width="137.10" height="54.80" fill="url(#gp)"/></g><g filter="url(#sh)"><path d="M282.70,1141.00 L520.00,1133.50" fill="none" stroke="#ff0000" stroke-width="4.2" stroke-linejoin="round" stroke-linecap="round"/><path d="M283.30,1464.00 L520.00,1455.40" fill="none" stroke="#ff0000" stroke-width="4.2" stroke-linejoin="round" stroke-linecap="round"/><path d="M132.7,1255.5 H228 C248,1255.5 258,1250 273.3,1238.3" fill="none" stroke="#ff0000" stroke-width="4.2"/><path d="M132.7,1390 H224 C246,1390 257,1385 273.3,1373.3" fill="none" stroke="#ff0000" stroke-width="4.2"/><line x1="139.30" y1="1305.70" x2="273.30" y2="1305.70" stroke="#ffff00" stroke-width="4.6"/><line x1="284.00" y1="1305.20" x2="520.00" y2="1297.40" stroke="#ffff00" stroke-width="4.6"/><line x1="529.50" y1="1297.80" x2="666.50" y2="1297.80" stroke="#ffff00" stroke-width="4.6"/><line x1="284.40" y1="1290.50" x2="520.00" y2="1290.00" stroke="#7030a0" stroke-width="4.3" stroke-dasharray="14.4 4.8"/></g><g filter="url(#sh)"><rect x="273.30" y="1112.70" width="9.00" height="526.70" fill="#a6a6a6"/><rect x="520.00" y="1119.90" width="8.90" height="526.50" fill="#a6a6a6"/><rect x="123.00" y="1131.00" width="10.00" height="490.00" fill="#000"/><polygon points="114.3,1620 142.3,1620 128.3,1646.7" fill="#000"/></g><rect x="288.00" y="1288.80" width="5.00" height="10.10" fill="#5b9bd5"/><polygon points="281.30,1297.90 299.70,1297.90 290.50,1315.90" fill="#5b9bd5"/><polygon points="503.7,1288 522.7,1288 513.2,1305.8" fill="#5b9bd5"/><g transform="translate(2.40,1054.80) scale(1.0320,1.0000)"><text x="-1.72" y="0.00" font-family='"Liberation Sans", sans-serif' font-size="43.00" font-weight="bold">e</text></g><g transform="translate(95.10,1133.10)"><text x="-1.18" y="0.00" font-family='"Liberation Sans", sans-serif' font-size="29.50">0</text></g><g transform="translate(189.70,1064.20)"><text x="-1.22" y="0.00" font-family='"Liberation Serif", serif' font-size="30.50">Δ</text></g><g transform="translate(212.60,1063.90)"><text x="-0.66" y="0.00" font-family='"Liberation Serif", serif' font-size="33.00" font-style="italic">ϕ</text></g><g transform="translate(233.10,1080.70)"><text x="-1.96" y="0.00" font-family='"Liberation Sans", sans-serif' font-size="24.50">EDL</text></g><path d="M291.54,1050.00 Q277.31,1076.35 291.54,1102.70" fill="none" stroke="#000" stroke-width="1.6"/><path d="M397.46,1050.00 Q411.69,1076.35 397.46,1102.70" fill="none" stroke="#000" stroke-width="1.6"/><line x1="292.70" y1="1075.10" x2="399.60" y2="1075.10" stroke="#000" stroke-width="1.8"/><g transform="translate(342.15,1063.40)"><text x="-30.46" y="0.00" font-family='"Liberation Sans", sans-serif' font-size="24.50">MoS</text><text x="19.92" y="8.00" font-family='"Liberation Sans", sans-serif' font-size="17.00">2</text></g><g transform="translate(346.15,1099.30)"><text x="-45.51" y="0.00" font-family='"Liberation Sans", sans-serif' font-size="24.50">Li–glass</text></g><g transform="translate(476.50,1090.00)"><text x="-1.22" y="0.00" font-family='"Liberation Serif", serif' font-size="30.50">Δ</text></g><g transform="translate(499.40,1089.70)"><text x="-0.66" y="0.00" font-family='"Liberation Serif", serif' font-size="33.00" font-style="italic">ϕ</text></g><g transform="translate(519.90,1106.50)"><text x="-1.96" y="0.00" font-family='"Liberation Sans", sans-serif' font-size="24.50">EDL</text></g><path d="M579.34,1076.00 Q565.11,1102.35 579.34,1128.70" fill="none" stroke="#000" stroke-width="1.6"/><path d="M683.06,1076.00 Q697.29,1102.35 683.06,1128.70" fill="none" stroke="#000" stroke-width="1.6"/><line x1="579.70" y1="1101.70" x2="685.50" y2="1101.70" stroke="#000" stroke-width="1.8"/><g transform="translate(632.60,1088.70)"><text x="-45.51" y="0.00" font-family='"Liberation Sans", sans-serif' font-size="24.50">Li–glass</text></g><g transform="translate(632.60,1124.00)"><text x="-14.15" y="0.00" font-family='"Liberation Sans", sans-serif' font-size="24.50">Ag</text></g><g transform="translate(163.40,1288.50)"><text x="0.00" y="0.00" font-family='"Liberation Serif", serif' font-size="38.00" font-style="italic">μ</text><text x="19.07" y="7.20" font-family='"Liberation Sans", sans-serif' font-size="24.00">MoS</text><text x="68.42" y="12.00" font-family='"Liberation Sans", sans-serif' font-size="17.00">2</text></g><g transform="translate(333.30,1265.30)"><text x="0.00" y="0.00" font-family='"Liberation Serif", serif' font-size="38.00" font-style="italic">μ</text><text x="19.07" y="8.60" font-family='"Liberation Sans", sans-serif' font-size="24.00">Li–glass</text></g><g transform="translate(571.50,1277.30)"><text x="0.00" y="0.00" font-family='"Liberation Serif", serif' font-size="38.00" font-style="italic">μ</text><text x="19.07" y="6.70" font-family='"Liberation Sans", sans-serif' font-size="24.00">Ag</text></g><g transform="translate(148.50,1347.00) scale(1.0332,1.0000)"><text x="-1.40" y="0.00" font-family='"Liberation Sans", sans-serif' font-size="28.00">−5.37 eV</text></g><g transform="translate(322.60,1325.70) scale(1.0331,1.0000)"><text x="-0.70" y="0.00" font-family='"Liberation Sans", sans-serif' font-size="28.00">≈0.30 eV</text></g><g transform="translate(544.10,1338.20) scale(0.9979,1.0000)"><text x="-1.45" y="0.00" font-family='"Liberation Sans", sans-serif' font-size="29.00">−</text><text x="19.99" y="0.00" font-family='"Liberation Sans", sans-serif' font-size="29.00">5.24 eV</text></g><g transform="translate(545.10,1380.10)"><text x="-1.80" y="0.00" font-family='"Liberation Sans", sans-serif' font-size="36.00">+</text></g><g transform="translate(556.60,1415.40)"><text x="0.00" y="0.00" font-family='"Liberation Sans", sans-serif' font-size="33.00">Ag</text><text x="41.37" y="-9.50" font-family='"Liberation Sans", sans-serif' font-size="27.00">+</text></g><g transform="translate(238.20,1441.60)"><text x="-0.64" y="0.00" font-family='"Liberation Sans", sans-serif' font-size="42.50" font-style="italic">h</text></g><g transform="translate(256.30,1418.90)"><text x="-1.85" y="0.00" font-family='"Liberation Sans", sans-serif' font-size="37.00">+</text></g><g transform="translate(300.00,1537.90) scale(0.8874,1.0000)"><text x="-3.57" y="0.00" font-family='"Liberation Sans", sans-serif' font-size="42.00" font-style="italic">V</text></g><g transform="translate(320.90,1543.10)"><text x="-1.04" y="0.00" font-family='"Liberation Sans", sans-serif' font-size="26.00">a</text></g><line x1="328.70" y1="1511.30" x2="347.00" y2="1511.30" stroke="#000" stroke-width="2.2"/><line x1="293.60" y1="1490.50" x2="312.10" y2="1490.50" stroke="#000" stroke-width="2.2"/><g transform="translate(459.20,1530.90) scale(0.8874,1.0000)"><text x="-3.57" y="0.00" font-family='"Liberation Sans", sans-serif' font-size="42.00" font-style="italic">V</text></g><g transform="translate(480.10,1536.10)"><text x="-1.04" y="0.00" font-family='"Liberation Sans", sans-serif' font-size="26.00">a</text></g><line x1="487.90" y1="1504.30" x2="506.20" y2="1504.30" stroke="#000" stroke-width="2.2"/><line x1="493.10" y1="1483.60" x2="511.60" y2="1483.60" stroke="#000" stroke-width="2.2"/><g transform="translate(105.00,1410.00) rotate(-90)"><text x="-0.62" y="0.00" font-family='"Liberation Sans", sans-serif' font-size="31.00" font-weight="bold" font-style="italic">E</text><text x="20.06" y="0.00" font-family='"Liberation Sans", sans-serif' font-size="29.00"> (eV)</text></g><g transform="translate(172.60,1587.80)"><text x="-2.68" y="0.00" font-family='"Liberation Sans", sans-serif' font-size="33.50">MoS</text><text x="66.20" y="8.30" font-family='"Liberation Sans", sans-serif' font-size="25.00">2</text></g><g transform="translate(353.80,1577.60) scale(0.9982,1.0000)"><text x="-1.62" y="0.00" font-family='"Liberation Sans", sans-serif' font-size="36.00">Solid</text></g><g transform="translate(312.20,1622.90) scale(0.9851,1.0000)"><text x="-2.88" y="0.00" font-family='"Liberation Sans", sans-serif' font-size="36.00">Electrolyte</text></g><g transform="translate(357.80,1667.60) scale(1.0073,1.0000)"><text x="-1.71" y="0.00" font-family='"Liberation Sans", sans-serif' font-size="38.00">OFF</text></g><g transform="translate(553.00,1593.20) scale(0.9791,1.0000)"><text x="-1.62" y="0.00" font-family='"Liberation Sans", sans-serif' font-size="36.00">Silver</text></g><g filter="url(#sh)"><rect x="879.30" y="1555.00" width="136.00" height="52.30" fill="url(#gp)"/><rect x="1025.00" y="1554.50" width="233.30" height="53.90" fill="url(#gg)"/><rect x="1267.70" y="1555.60" width="134.10" height="54.40" fill="url(#gp)"/></g><g filter="url(#sh)"><path d="M1026.70,1121.70 L1259.00,1151.40" fill="none" stroke="#ff0000" stroke-width="4.2" stroke-linejoin="round" stroke-linecap="round"/><path d="M1025.00,1456.00 L1258.30,1491.10" fill="none" stroke="#ff0000" stroke-width="4.2" stroke-linejoin="round" stroke-linecap="round"/><path d="M874.3,1234.3 H958 C968,1234.3 975,1237 981.1,1244.5 C987,1251 994,1260 999.2,1266.8 C1004,1274 1009,1284 1011.7,1290.5 L1016,1298" fill="none" stroke="#ff0000" stroke-width="4.2"/><path d="M874.3,1369 H962 C972,1369 979,1371.7 985.1,1379.2 C991,1385.7 998,1394.7 1003.2,1401.5 C1008,1408.7 1012,1418 1014.5,1424.5 L1016.5,1431.7" fill="none" stroke="#ff0000" stroke-width="4.2"/><line x1="874.30" y1="1284.80" x2="1017.70" y2="1284.00" stroke="#ffff00" stroke-width="4.6"/><line x1="874.30" y1="1303.30" x2="1017.70" y2="1303.30" stroke="#7030a0" stroke-width="4.3" stroke-dasharray="14.4 4.8"/><line x1="1026.70" y1="1284.00" x2="1259.00" y2="1314.90" stroke="#ffff00" stroke-width="4.6"/><line x1="1026.70" y1="1288.60" x2="1259.00" y2="1288.60" stroke="#7030a0" stroke-width="4.3" stroke-dasharray="14.4 4.8"/><line x1="1268.00" y1="1296.60" x2="1403.70" y2="1296.60" stroke="#7030a0" stroke-width="4.3" stroke-dasharray="14.4 4.8"/><line x1="1268.00" y1="1315.60" x2="1403.70" y2="1315.60" stroke="#ffff00" stroke-width="4.6"/></g><g filter="url(#sh)"><polygon points="1017.7,1100 1026.7,1100 1025,1650.7 1015.3,1650.7" fill="#a6a6a6"/><rect x="1258.60" y="1105.70" width="8.90" height="551.90" fill="#a6a6a6"/><rect x="865.00" y="1129.00" width="10.00" height="502.00" fill="#000"/><polygon points="856,1630 884,1630 870,1656.7" fill="#000"/></g><rect x="986.30" y="1295.00" width="5.00" height="12.00" fill="#5b9bd5"/><polygon points="979.60,1296.00 998.00,1296.00 988.80,1278.00" fill="#5b9bd5"/><rect x="1278.50" y="1291.40" width="5.00" height="11.60" fill="#5b9bd5"/><polygon points="1271.80,1302.00 1290.20,1302.00 1281.00,1320.00" fill="#5b9bd5"/><g transform="translate(757.20,1054.20) scale(0.9375,1.0000)"><text x="-0.65" y="0.00" font-family='"Liberation Sans", sans-serif' font-size="43.00" font-weight="bold">f</text></g><g transform="translate(839.30,1150.00)"><text x="-1.18" y="0.00" font-family='"Liberation Sans", sans-serif' font-size="29.50">0</text></g><g transform="translate(936.70,1069.20)"><text x="-1.22" y="0.00" font-family='"Liberation Serif", serif' font-size="30.50">Δ</text></g><g transform="translate(959.60,1068.90)"><text x="-0.66" y="0.00" font-family='"Liberation Serif", serif' font-size="33.00" font-style="italic">ϕ</text></g><g transform="translate(980.10,1085.70)"><text x="-1.96" y="0.00" font-family='"Liberation Sans", sans-serif' font-size="24.50">EDL</text></g><path d="M1038.84,1054.00 Q1024.61,1080.35 1038.84,1106.70" fill="none" stroke="#000" stroke-width="1.6"/><path d="M1142.76,1054.00 Q1156.99,1080.35 1142.76,1106.70" fill="none" stroke="#000" stroke-width="1.6"/><line x1="1040.00" y1="1079.30" x2="1145.00" y2="1079.30" stroke="#000" stroke-width="1.8"/><g transform="translate(1088.50,1066.70)"><text x="-30.46" y="0.00" font-family='"Liberation Sans", sans-serif' font-size="24.50">MoS</text><text x="19.92" y="8.00" font-family='"Liberation Sans", sans-serif' font-size="17.00">2</text></g><g transform="translate(1092.50,1103.30)"><text x="-45.51" y="0.00" font-family='"Liberation Sans", sans-serif' font-size="24.50">Li–glass</text></g><g transform="translate(1219.60,1079.20)"><text x="-1.22" y="0.00" font-family='"Liberation Serif", serif' font-size="30.50">Δ</text></g><g transform="translate(1242.50,1078.90)"><text x="-0.66" y="0.00" font-family='"Liberation Serif", serif' font-size="33.00" font-style="italic">ϕ</text></g><g transform="translate(1263.00,1095.70)"><text x="-1.96" y="0.00" font-family='"Liberation Sans", sans-serif' font-size="24.50">EDL</text></g><path d="M1322.74,1066.00 Q1308.51,1092.35 1322.74,1118.70" fill="none" stroke="#000" stroke-width="1.6"/><path d="M1426.46,1066.00 Q1440.69,1092.35 1426.46,1118.70" fill="none" stroke="#000" stroke-width="1.6"/><line x1="1322.30" y1="1090.20" x2="1428.30" y2="1090.20" stroke="#000" stroke-width="1.8"/><g transform="translate(1375.30,1078.00)"><text x="-45.51" y="0.00" font-family='"Liberation Sans", sans-serif' font-size="24.50">Li–glass</text></g><g transform="translate(1375.30,1113.20)"><text x="-14.15" y="0.00" font-family='"Liberation Sans", sans-serif' font-size="24.50">Ag</text></g><g transform="translate(971.70,1226.00)"><text x="-1.12" y="0.00" font-family='"Liberation Sans", sans-serif' font-size="28.00">e</text></g><line x1="991.70" y1="1246.70" x2="1010.00" y2="1246.70" stroke="#000" stroke-width="2.2"/><g transform="translate(1039.00,1493.10)"><text x="-1.80" y="0.00" font-family='"Liberation Sans", sans-serif' font-size="36.00">+</text></g><g transform="translate(1045.00,1540.70)"><text x="-1.19" y="0.00" font-family='"Liberation Sans", sans-serif' font-size="39.50" font-style="italic">Li</text></g><g transform="translate(1085.00,1524.00)"><text x="-1.60" y="0.00" font-family='"Liberation Sans", sans-serif' font-size="32.00">+</text></g><g transform="translate(1180.90,1541.60) scale(0.8874,1.0000)"><text x="-3.57" y="0.00" font-family='"Liberation Sans", sans-serif' font-size="42.00" font-style="italic">V</text></g><g transform="translate(1201.80,1546.80)"><text x="-1.04" y="0.00" font-family='"Liberation Sans", sans-serif' font-size="26.00">a</text></g><line x1="1209.60" y1="1515.00" x2="1227.90" y2="1515.00" stroke="#000" stroke-width="2.2"/><line x1="1232.50" y1="1499.30" x2="1251.00" y2="1499.30" stroke="#000" stroke-width="2.2"/><g transform="translate(1287.10,1361.30)"><text x="-1.80" y="0.00" font-family='"Liberation Sans", sans-serif' font-size="36.00">+</text></g><g transform="translate(1299.30,1409.00)"><text x="0.00" y="0.00" font-family='"Liberation Sans", sans-serif' font-size="33.00">Ag</text><text x="41.37" y="-9.50" font-family='"Liberation Sans", sans-serif' font-size="27.00">+</text></g><g transform="translate(846.00,1406.70) rotate(-90)"><text x="-0.62" y="0.00" font-family='"Liberation Sans", sans-serif' font-size="31.00" font-weight="bold" font-style="italic">E</text><text x="20.06" y="0.00" font-family='"Liberation Sans", sans-serif' font-size="29.00"> (eV)</text></g><g transform="translate(920.00,1594.00)"><text x="-2.68" y="0.00" font-family='"Liberation Sans", sans-serif' font-size="33.50">MoS</text><text x="66.20" y="8.30" font-family='"Liberation Sans", sans-serif' font-size="25.00">2</text></g><g transform="translate(1095.00,1577.30) scale(0.9982,1.0000)"><text x="-1.62" y="0.00" font-family='"Liberation Sans", sans-serif' font-size="36.00">Solid</text></g><g transform="translate(1051.70,1623.30) scale(0.9851,1.0000)"><text x="-2.88" y="0.00" font-family='"Liberation Sans", sans-serif' font-size="36.00">Electrolyte</text></g><g transform="translate(1116.00,1670.50)"><text x="-1.71" y="0.00" font-family='"Liberation Sans", sans-serif' font-size="38.00">ON</text></g><g transform="translate(1295.40,1597.80) scale(0.9791,1.0000)"><text x="-1.62" y="0.00" font-family='"Liberation Sans", sans-serif' font-size="36.00">Silver</text></g>
</svg>
</body></html>
